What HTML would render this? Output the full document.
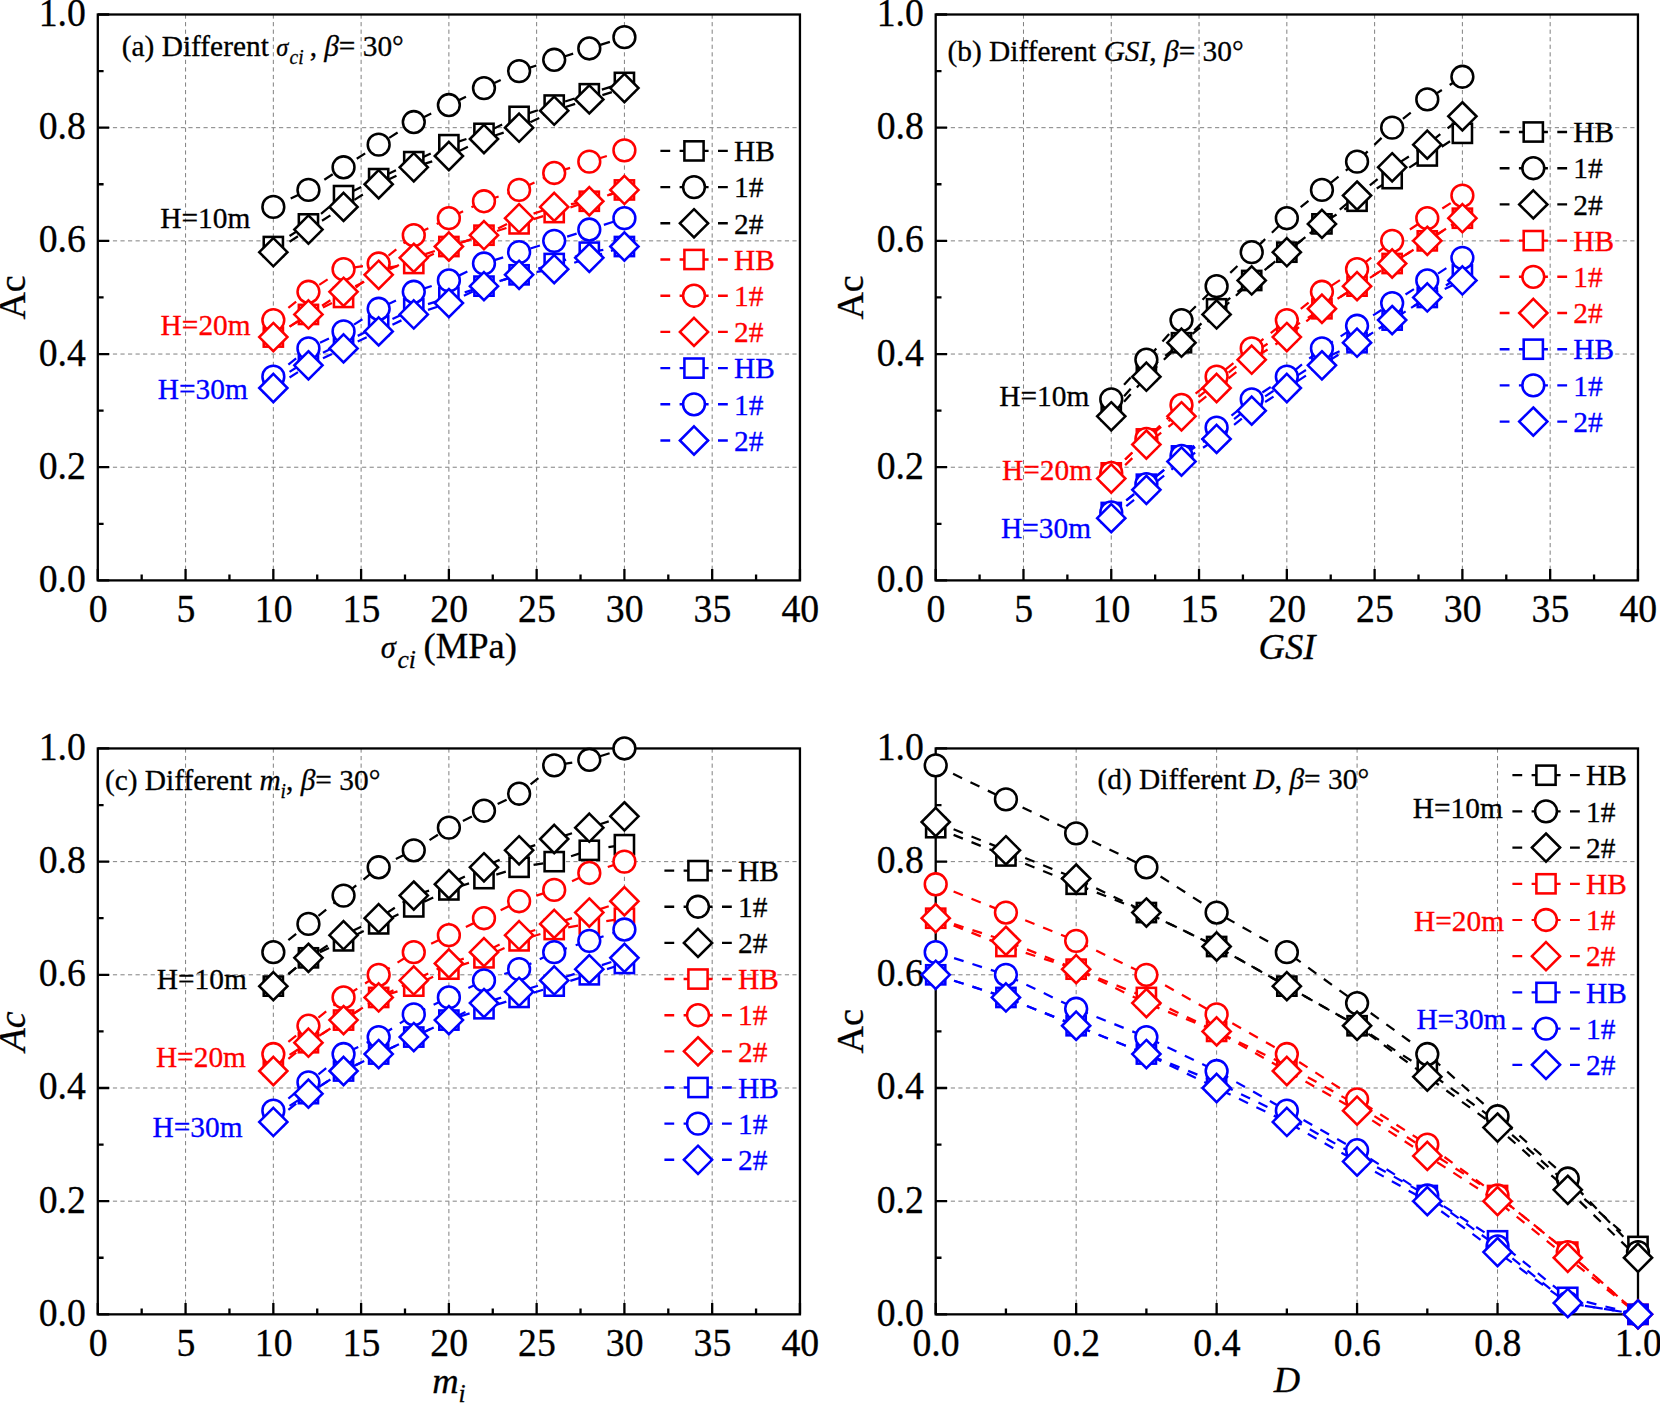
<!DOCTYPE html>
<html lang="en">
<head>
<meta charset="utf-8">
<title>Ac versus rock mass parameters</title>
<style>
html,body{margin:0;padding:0;background:#fff;}
body{width:1660px;height:1404px;overflow:hidden;}
svg{display:block;font-family:'Liberation Serif', serif;}
svg text{white-space:pre;stroke-width:0.3px;paint-order:stroke fill;}
</style>
</head>
<body>
<svg width="1660" height="1404" viewBox="0 0 1660 1404">
<rect width="1660" height="1404" fill="#fff"/>
<g id="panel-a">
<path d="M185.57 14.5V580.4M273.34 14.5V580.4M361.11 14.5V580.4M448.88 14.5V580.4M536.64 14.5V580.4M624.41 14.5V580.4M712.18 14.5V580.4M97.8 467.22H799.95M97.8 354.04H799.95M97.8 240.86H799.95M97.8 127.68H799.95" fill="none" stroke="#808080" stroke-width="1.0" stroke-dasharray="4.2 3.35"/>
<rect x="97.8" y="14.5" width="702.15" height="565.9" fill="none" stroke="#000" stroke-width="2.3"/>
<path d="M97.8 580.4V569M185.57 580.4V569M273.34 580.4V569M361.11 580.4V569M448.88 580.4V569M536.64 580.4V569M624.41 580.4V569M712.18 580.4V569M799.95 580.4V569M141.68 580.4V574.6M229.45 580.4V574.6M317.22 580.4V574.6M404.99 580.4V574.6M492.76 580.4V574.6M580.53 580.4V574.6M668.3 580.4V574.6M756.07 580.4V574.6M97.8 580.4H109.2M97.8 467.22H109.2M97.8 354.04H109.2M97.8 240.86H109.2M97.8 127.68H109.2M97.8 14.5H109.2M97.8 523.81H103.6M97.8 410.63H103.6M97.8 297.45H103.6M97.8 184.27H103.6M97.8 71.09H103.6" fill="none" stroke="#000" stroke-width="2.3"/>
<text transform="translate(98.1 622) scale(0.9533 1)" font-size="39.6" fill="#000000" stroke="#000000" text-anchor="middle">0</text>
<text transform="translate(185.87 622) scale(0.9533 1)" font-size="39.6" fill="#000000" stroke="#000000" text-anchor="middle">5</text>
<text transform="translate(273.64 622) scale(0.9533 1)" font-size="39.6" fill="#000000" stroke="#000000" text-anchor="middle">10</text>
<text transform="translate(361.41 622) scale(0.9533 1)" font-size="39.6" fill="#000000" stroke="#000000" text-anchor="middle">15</text>
<text transform="translate(449.18 622) scale(0.9533 1)" font-size="39.6" fill="#000000" stroke="#000000" text-anchor="middle">20</text>
<text transform="translate(536.94 622) scale(0.9533 1)" font-size="39.6" fill="#000000" stroke="#000000" text-anchor="middle">25</text>
<text transform="translate(624.71 622) scale(0.9533 1)" font-size="39.6" fill="#000000" stroke="#000000" text-anchor="middle">30</text>
<text transform="translate(712.48 622) scale(0.9533 1)" font-size="39.6" fill="#000000" stroke="#000000" text-anchor="middle">35</text>
<text transform="translate(800.25 622) scale(0.9533 1)" font-size="39.6" fill="#000000" stroke="#000000" text-anchor="middle">40</text>
<text transform="translate(85.9 591.9) scale(0.9533 1)" font-size="39.6" fill="#000000" stroke="#000000" text-anchor="end">0.0</text>
<text transform="translate(85.9 478.72) scale(0.9533 1)" font-size="39.6" fill="#000000" stroke="#000000" text-anchor="end">0.2</text>
<text transform="translate(85.9 365.54) scale(0.9533 1)" font-size="39.6" fill="#000000" stroke="#000000" text-anchor="end">0.4</text>
<text transform="translate(85.9 252.36) scale(0.9533 1)" font-size="39.6" fill="#000000" stroke="#000000" text-anchor="end">0.6</text>
<text transform="translate(85.9 139.18) scale(0.9533 1)" font-size="39.6" fill="#000000" stroke="#000000" text-anchor="end">0.8</text>
<text transform="translate(85.9 26) scale(0.9533 1)" font-size="39.6" fill="#000000" stroke="#000000" text-anchor="end">1.0</text>
<text transform="translate(380.68 658.4) scale(1 1)" font-size="36.6" fill="#000000" stroke="#000000" text-anchor="start"><tspan font-style="italic" font-size="30.5">σ</tspan><tspan font-style="italic" font-size="25.5" dy="9.8" dx="1.8">ci</tspan><tspan dy="-9.8" dx="-1.6"> (MPa)</tspan></text>
<text transform="translate(25.2 297.45) rotate(-90) scale(1 1)" font-size="38" fill="#000000" stroke="#000000" text-anchor="middle">Ac</text>
<polyline points="273.34,246.52 308.44,223.88 343.55,195.59 378.66,178.61 413.77,161.63 448.88,144.66 483.98,133.34 519.09,116.36 554.2,105.04 589.3,93.73 624.41,82.41" fill="none" stroke="#000000" stroke-width="2.25" stroke-dasharray="10 9.3"/>
<rect x="263.74" y="236.92" width="19.2" height="19.2" fill="#fff" stroke="#000000" stroke-width="2.55"/><rect x="298.84" y="214.28" width="19.2" height="19.2" fill="#fff" stroke="#000000" stroke-width="2.55"/><rect x="333.95" y="185.99" width="19.2" height="19.2" fill="#fff" stroke="#000000" stroke-width="2.55"/><rect x="369.06" y="169.01" width="19.2" height="19.2" fill="#fff" stroke="#000000" stroke-width="2.55"/><rect x="404.17" y="152.03" width="19.2" height="19.2" fill="#fff" stroke="#000000" stroke-width="2.55"/><rect x="439.28" y="135.06" width="19.2" height="19.2" fill="#fff" stroke="#000000" stroke-width="2.55"/><rect x="474.38" y="123.74" width="19.2" height="19.2" fill="#fff" stroke="#000000" stroke-width="2.55"/><rect x="509.49" y="106.76" width="19.2" height="19.2" fill="#fff" stroke="#000000" stroke-width="2.55"/><rect x="544.6" y="95.44" width="19.2" height="19.2" fill="#fff" stroke="#000000" stroke-width="2.55"/><rect x="579.7" y="84.13" width="19.2" height="19.2" fill="#fff" stroke="#000000" stroke-width="2.55"/><rect x="614.81" y="72.81" width="19.2" height="19.2" fill="#fff" stroke="#000000" stroke-width="2.55"/>
<polyline points="273.34,206.91 308.44,189.93 343.55,167.29 378.66,144.66 413.77,122.02 448.88,105.04 483.98,88.07 519.09,71.09 554.2,59.77 589.3,48.45 624.41,37.14" fill="none" stroke="#000000" stroke-width="2.25" stroke-dasharray="10 9.3"/>
<circle cx="273.34" cy="206.91" r="10.9" fill="#fff" stroke="#000000" stroke-width="2.55"/><circle cx="308.44" cy="189.93" r="10.9" fill="#fff" stroke="#000000" stroke-width="2.55"/><circle cx="343.55" cy="167.29" r="10.9" fill="#fff" stroke="#000000" stroke-width="2.55"/><circle cx="378.66" cy="144.66" r="10.9" fill="#fff" stroke="#000000" stroke-width="2.55"/><circle cx="413.77" cy="122.02" r="10.9" fill="#fff" stroke="#000000" stroke-width="2.55"/><circle cx="448.88" cy="105.04" r="10.9" fill="#fff" stroke="#000000" stroke-width="2.55"/><circle cx="483.98" cy="88.07" r="10.9" fill="#fff" stroke="#000000" stroke-width="2.55"/><circle cx="519.09" cy="71.09" r="10.9" fill="#fff" stroke="#000000" stroke-width="2.55"/><circle cx="554.2" cy="59.77" r="10.9" fill="#fff" stroke="#000000" stroke-width="2.55"/><circle cx="589.3" cy="48.45" r="10.9" fill="#fff" stroke="#000000" stroke-width="2.55"/><circle cx="624.41" cy="37.14" r="10.9" fill="#fff" stroke="#000000" stroke-width="2.55"/>
<polyline points="273.34,252.18 308.44,229.54 343.55,206.91 378.66,184.27 413.77,167.29 448.88,155.98 483.98,139 519.09,127.68 554.2,110.7 589.3,99.38 624.41,88.07" fill="none" stroke="#000000" stroke-width="2.25" stroke-dasharray="10 9.3"/>
<path d="M273.34 238.08L287.44 252.18L273.34 266.28L259.24 252.18Z" fill="#fff" stroke="#000000" stroke-width="2.55" stroke-linejoin="miter"/><path d="M308.44 215.44L322.55 229.54L308.44 243.64L294.34 229.54Z" fill="#fff" stroke="#000000" stroke-width="2.55" stroke-linejoin="miter"/><path d="M343.55 192.81L357.65 206.91L343.55 221.01L329.45 206.91Z" fill="#fff" stroke="#000000" stroke-width="2.55" stroke-linejoin="miter"/><path d="M378.66 170.17L392.76 184.27L378.66 198.37L364.56 184.27Z" fill="#fff" stroke="#000000" stroke-width="2.55" stroke-linejoin="miter"/><path d="M413.77 153.19L427.87 167.29L413.77 181.39L399.67 167.29Z" fill="#fff" stroke="#000000" stroke-width="2.55" stroke-linejoin="miter"/><path d="M448.88 141.88L462.98 155.98L448.88 170.08L434.78 155.98Z" fill="#fff" stroke="#000000" stroke-width="2.55" stroke-linejoin="miter"/><path d="M483.98 124.9L498.08 139L483.98 153.1L469.88 139Z" fill="#fff" stroke="#000000" stroke-width="2.55" stroke-linejoin="miter"/><path d="M519.09 113.58L533.19 127.68L519.09 141.78L504.99 127.68Z" fill="#fff" stroke="#000000" stroke-width="2.55" stroke-linejoin="miter"/><path d="M554.2 96.6L568.3 110.7L554.2 124.8L540.1 110.7Z" fill="#fff" stroke="#000000" stroke-width="2.55" stroke-linejoin="miter"/><path d="M589.3 85.28L603.4 99.38L589.3 113.48L575.2 99.38Z" fill="#fff" stroke="#000000" stroke-width="2.55" stroke-linejoin="miter"/><path d="M624.41 73.97L638.51 88.07L624.41 102.17L610.31 88.07Z" fill="#fff" stroke="#000000" stroke-width="2.55" stroke-linejoin="miter"/>
<polyline points="273.34,337.06 308.44,314.43 343.55,297.45 378.66,269.15 413.77,263.5 448.88,246.52 483.98,235.2 519.09,223.88 554.2,212.56 589.3,201.25 624.41,189.93" fill="none" stroke="#ff0000" stroke-width="2.25" stroke-dasharray="10 9.3"/>
<rect x="263.74" y="327.46" width="19.2" height="19.2" fill="#fff" stroke="#ff0000" stroke-width="2.55"/><rect x="298.84" y="304.83" width="19.2" height="19.2" fill="#fff" stroke="#ff0000" stroke-width="2.55"/><rect x="333.95" y="287.85" width="19.2" height="19.2" fill="#fff" stroke="#ff0000" stroke-width="2.55"/><rect x="369.06" y="259.55" width="19.2" height="19.2" fill="#fff" stroke="#ff0000" stroke-width="2.55"/><rect x="404.17" y="253.9" width="19.2" height="19.2" fill="#fff" stroke="#ff0000" stroke-width="2.55"/><rect x="439.28" y="236.92" width="19.2" height="19.2" fill="#fff" stroke="#ff0000" stroke-width="2.55"/><rect x="474.38" y="225.6" width="19.2" height="19.2" fill="#fff" stroke="#ff0000" stroke-width="2.55"/><rect x="509.49" y="214.28" width="19.2" height="19.2" fill="#fff" stroke="#ff0000" stroke-width="2.55"/><rect x="544.6" y="202.97" width="19.2" height="19.2" fill="#fff" stroke="#ff0000" stroke-width="2.55"/><rect x="579.7" y="191.65" width="19.2" height="19.2" fill="#fff" stroke="#ff0000" stroke-width="2.55"/><rect x="614.81" y="180.33" width="19.2" height="19.2" fill="#fff" stroke="#ff0000" stroke-width="2.55"/>
<polyline points="273.34,320.09 308.44,291.79 343.55,269.15 378.66,263.5 413.77,235.2 448.88,218.22 483.98,201.25 519.09,189.93 554.2,172.95 589.3,161.63 624.41,150.32" fill="none" stroke="#ff0000" stroke-width="2.25" stroke-dasharray="10 9.3"/>
<circle cx="273.34" cy="320.09" r="10.9" fill="#fff" stroke="#ff0000" stroke-width="2.55"/><circle cx="308.44" cy="291.79" r="10.9" fill="#fff" stroke="#ff0000" stroke-width="2.55"/><circle cx="343.55" cy="269.15" r="10.9" fill="#fff" stroke="#ff0000" stroke-width="2.55"/><circle cx="378.66" cy="263.5" r="10.9" fill="#fff" stroke="#ff0000" stroke-width="2.55"/><circle cx="413.77" cy="235.2" r="10.9" fill="#fff" stroke="#ff0000" stroke-width="2.55"/><circle cx="448.88" cy="218.22" r="10.9" fill="#fff" stroke="#ff0000" stroke-width="2.55"/><circle cx="483.98" cy="201.25" r="10.9" fill="#fff" stroke="#ff0000" stroke-width="2.55"/><circle cx="519.09" cy="189.93" r="10.9" fill="#fff" stroke="#ff0000" stroke-width="2.55"/><circle cx="554.2" cy="172.95" r="10.9" fill="#fff" stroke="#ff0000" stroke-width="2.55"/><circle cx="589.3" cy="161.63" r="10.9" fill="#fff" stroke="#ff0000" stroke-width="2.55"/><circle cx="624.41" cy="150.32" r="10.9" fill="#fff" stroke="#ff0000" stroke-width="2.55"/>
<polyline points="273.34,337.06 308.44,314.43 343.55,291.79 378.66,274.81 413.77,257.84 448.88,246.52 483.98,235.2 519.09,218.22 554.2,206.91 589.3,201.25 624.41,189.93" fill="none" stroke="#ff0000" stroke-width="2.25" stroke-dasharray="10 9.3"/>
<path d="M273.34 322.96L287.44 337.06L273.34 351.16L259.24 337.06Z" fill="#fff" stroke="#ff0000" stroke-width="2.55" stroke-linejoin="miter"/><path d="M308.44 300.33L322.55 314.43L308.44 328.53L294.34 314.43Z" fill="#fff" stroke="#ff0000" stroke-width="2.55" stroke-linejoin="miter"/><path d="M343.55 277.69L357.65 291.79L343.55 305.89L329.45 291.79Z" fill="#fff" stroke="#ff0000" stroke-width="2.55" stroke-linejoin="miter"/><path d="M378.66 260.71L392.76 274.81L378.66 288.91L364.56 274.81Z" fill="#fff" stroke="#ff0000" stroke-width="2.55" stroke-linejoin="miter"/><path d="M413.77 243.74L427.87 257.84L413.77 271.94L399.67 257.84Z" fill="#fff" stroke="#ff0000" stroke-width="2.55" stroke-linejoin="miter"/><path d="M448.88 232.42L462.98 246.52L448.88 260.62L434.78 246.52Z" fill="#fff" stroke="#ff0000" stroke-width="2.55" stroke-linejoin="miter"/><path d="M483.98 221.1L498.08 235.2L483.98 249.3L469.88 235.2Z" fill="#fff" stroke="#ff0000" stroke-width="2.55" stroke-linejoin="miter"/><path d="M519.09 204.12L533.19 218.22L519.09 232.32L504.99 218.22Z" fill="#fff" stroke="#ff0000" stroke-width="2.55" stroke-linejoin="miter"/><path d="M554.2 192.81L568.3 206.91L554.2 221.01L540.1 206.91Z" fill="#fff" stroke="#ff0000" stroke-width="2.55" stroke-linejoin="miter"/><path d="M589.3 187.15L603.4 201.25L589.3 215.35L575.2 201.25Z" fill="#fff" stroke="#ff0000" stroke-width="2.55" stroke-linejoin="miter"/><path d="M624.41 175.83L638.51 189.93L624.41 204.03L610.31 189.93Z" fill="#fff" stroke="#ff0000" stroke-width="2.55" stroke-linejoin="miter"/>
<polyline points="273.34,382.34 308.44,359.7 343.55,342.72 378.66,325.75 413.77,308.77 448.88,297.45 483.98,286.13 519.09,274.81 554.2,263.5 589.3,252.18 624.41,246.52" fill="none" stroke="#0000ff" stroke-width="2.25" stroke-dasharray="10 9.3"/>
<rect x="263.74" y="372.74" width="19.2" height="19.2" fill="#fff" stroke="#0000ff" stroke-width="2.55"/><rect x="298.84" y="350.1" width="19.2" height="19.2" fill="#fff" stroke="#0000ff" stroke-width="2.55"/><rect x="333.95" y="333.12" width="19.2" height="19.2" fill="#fff" stroke="#0000ff" stroke-width="2.55"/><rect x="369.06" y="316.14" width="19.2" height="19.2" fill="#fff" stroke="#0000ff" stroke-width="2.55"/><rect x="404.17" y="299.17" width="19.2" height="19.2" fill="#fff" stroke="#0000ff" stroke-width="2.55"/><rect x="439.28" y="287.85" width="19.2" height="19.2" fill="#fff" stroke="#0000ff" stroke-width="2.55"/><rect x="474.38" y="276.53" width="19.2" height="19.2" fill="#fff" stroke="#0000ff" stroke-width="2.55"/><rect x="509.49" y="265.21" width="19.2" height="19.2" fill="#fff" stroke="#0000ff" stroke-width="2.55"/><rect x="544.6" y="253.9" width="19.2" height="19.2" fill="#fff" stroke="#0000ff" stroke-width="2.55"/><rect x="579.7" y="242.58" width="19.2" height="19.2" fill="#fff" stroke="#0000ff" stroke-width="2.55"/><rect x="614.81" y="236.92" width="19.2" height="19.2" fill="#fff" stroke="#0000ff" stroke-width="2.55"/>
<polyline points="273.34,376.68 308.44,348.38 343.55,331.4 378.66,308.77 413.77,291.79 448.88,280.47 483.98,263.5 519.09,252.18 554.2,240.86 589.3,229.54 624.41,218.22" fill="none" stroke="#0000ff" stroke-width="2.25" stroke-dasharray="10 9.3"/>
<circle cx="273.34" cy="376.68" r="10.9" fill="#fff" stroke="#0000ff" stroke-width="2.55"/><circle cx="308.44" cy="348.38" r="10.9" fill="#fff" stroke="#0000ff" stroke-width="2.55"/><circle cx="343.55" cy="331.4" r="10.9" fill="#fff" stroke="#0000ff" stroke-width="2.55"/><circle cx="378.66" cy="308.77" r="10.9" fill="#fff" stroke="#0000ff" stroke-width="2.55"/><circle cx="413.77" cy="291.79" r="10.9" fill="#fff" stroke="#0000ff" stroke-width="2.55"/><circle cx="448.88" cy="280.47" r="10.9" fill="#fff" stroke="#0000ff" stroke-width="2.55"/><circle cx="483.98" cy="263.5" r="10.9" fill="#fff" stroke="#0000ff" stroke-width="2.55"/><circle cx="519.09" cy="252.18" r="10.9" fill="#fff" stroke="#0000ff" stroke-width="2.55"/><circle cx="554.2" cy="240.86" r="10.9" fill="#fff" stroke="#0000ff" stroke-width="2.55"/><circle cx="589.3" cy="229.54" r="10.9" fill="#fff" stroke="#0000ff" stroke-width="2.55"/><circle cx="624.41" cy="218.22" r="10.9" fill="#fff" stroke="#0000ff" stroke-width="2.55"/>
<polyline points="273.34,387.99 308.44,365.36 343.55,348.38 378.66,331.4 413.77,314.43 448.88,303.11 483.98,286.13 519.09,274.81 554.2,269.15 589.3,257.84 624.41,246.52" fill="none" stroke="#0000ff" stroke-width="2.25" stroke-dasharray="10 9.3"/>
<path d="M273.34 373.89L287.44 387.99L273.34 402.09L259.24 387.99Z" fill="#fff" stroke="#0000ff" stroke-width="2.55" stroke-linejoin="miter"/><path d="M308.44 351.26L322.55 365.36L308.44 379.46L294.34 365.36Z" fill="#fff" stroke="#0000ff" stroke-width="2.55" stroke-linejoin="miter"/><path d="M343.55 334.28L357.65 348.38L343.55 362.48L329.45 348.38Z" fill="#fff" stroke="#0000ff" stroke-width="2.55" stroke-linejoin="miter"/><path d="M378.66 317.3L392.76 331.4L378.66 345.5L364.56 331.4Z" fill="#fff" stroke="#0000ff" stroke-width="2.55" stroke-linejoin="miter"/><path d="M413.77 300.33L427.87 314.43L413.77 328.53L399.67 314.43Z" fill="#fff" stroke="#0000ff" stroke-width="2.55" stroke-linejoin="miter"/><path d="M448.88 289.01L462.98 303.11L448.88 317.21L434.78 303.11Z" fill="#fff" stroke="#0000ff" stroke-width="2.55" stroke-linejoin="miter"/><path d="M483.98 272.03L498.08 286.13L483.98 300.23L469.88 286.13Z" fill="#fff" stroke="#0000ff" stroke-width="2.55" stroke-linejoin="miter"/><path d="M519.09 260.71L533.19 274.81L519.09 288.91L504.99 274.81Z" fill="#fff" stroke="#0000ff" stroke-width="2.55" stroke-linejoin="miter"/><path d="M554.2 255.05L568.3 269.15L554.2 283.25L540.1 269.15Z" fill="#fff" stroke="#0000ff" stroke-width="2.55" stroke-linejoin="miter"/><path d="M589.3 243.74L603.4 257.84L589.3 271.94L575.2 257.84Z" fill="#fff" stroke="#0000ff" stroke-width="2.55" stroke-linejoin="miter"/><path d="M624.41 232.42L638.51 246.52L624.41 260.62L610.31 246.52Z" fill="#fff" stroke="#0000ff" stroke-width="2.55" stroke-linejoin="miter"/>
<text transform="translate(121.7 55.7) scale(0.9662 1)" font-size="30.43" fill="#000000" stroke="#000000" text-anchor="start">(a) Different <tspan font-style="italic" font-size="25.36">σ</tspan><tspan font-style="italic" font-size="20.18" dy="8.6" dx="1.4">ci</tspan><tspan dy="-8.6" dx="-1.2"> ,</tspan><tspan font-style="italic" dx="7.2">β</tspan>= 30°</text>
<text transform="translate(160.2 227.5) scale(0.9662 1)" font-size="30.43" fill="#000000" stroke="#000000" text-anchor="start">H=10m</text>
<text transform="translate(160.6 334.7) scale(0.9662 1)" font-size="30.43" fill="#ff0000" stroke="#ff0000" text-anchor="start">H=20m</text>
<text transform="translate(157.7 398.8) scale(0.9662 1)" font-size="30.43" fill="#0000ff" stroke="#0000ff" text-anchor="start">H=30m</text>
<path d="M660.4 150.9H727.9" stroke="#000000" stroke-width="2.4" stroke-dasharray="9.8 9.4" fill="none"/>
<rect x="684.4" y="141.3" width="19.2" height="19.2" fill="#fff" stroke="#000000" stroke-width="2.55"/>
<text transform="translate(734 161.1) scale(0.9662 1)" font-size="30.43" fill="#000000" stroke="#000000" text-anchor="start">HB</text>
<path d="M660.4 187.1H727.9" stroke="#000000" stroke-width="2.4" stroke-dasharray="9.8 9.4" fill="none"/>
<circle cx="694" cy="187.1" r="10.9" fill="#fff" stroke="#000000" stroke-width="2.55"/>
<text transform="translate(734 197.3) scale(0.9662 1)" font-size="30.43" fill="#000000" stroke="#000000" text-anchor="start">1#</text>
<path d="M660.4 223.3H727.9" stroke="#000000" stroke-width="2.4" stroke-dasharray="9.8 9.4" fill="none"/>
<path d="M694 209.2L708.1 223.3L694 237.4L679.9 223.3Z" fill="#fff" stroke="#000000" stroke-width="2.55" stroke-linejoin="miter"/>
<text transform="translate(734 233.5) scale(0.9662 1)" font-size="30.43" fill="#000000" stroke="#000000" text-anchor="start">2#</text>
<path d="M660.4 259.5H727.9" stroke="#ff0000" stroke-width="2.4" stroke-dasharray="9.8 9.4" fill="none"/>
<rect x="684.4" y="249.9" width="19.2" height="19.2" fill="#fff" stroke="#ff0000" stroke-width="2.55"/>
<text transform="translate(734 269.7) scale(0.9662 1)" font-size="30.43" fill="#ff0000" stroke="#ff0000" text-anchor="start">HB</text>
<path d="M660.4 295.7H727.9" stroke="#ff0000" stroke-width="2.4" stroke-dasharray="9.8 9.4" fill="none"/>
<circle cx="694" cy="295.7" r="10.9" fill="#fff" stroke="#ff0000" stroke-width="2.55"/>
<text transform="translate(734 305.9) scale(0.9662 1)" font-size="30.43" fill="#ff0000" stroke="#ff0000" text-anchor="start">1#</text>
<path d="M660.4 331.9H727.9" stroke="#ff0000" stroke-width="2.4" stroke-dasharray="9.8 9.4" fill="none"/>
<path d="M694 317.8L708.1 331.9L694 346L679.9 331.9Z" fill="#fff" stroke="#ff0000" stroke-width="2.55" stroke-linejoin="miter"/>
<text transform="translate(734 342.1) scale(0.9662 1)" font-size="30.43" fill="#ff0000" stroke="#ff0000" text-anchor="start">2#</text>
<path d="M660.4 368.1H727.9" stroke="#0000ff" stroke-width="2.4" stroke-dasharray="9.8 9.4" fill="none"/>
<rect x="684.4" y="358.5" width="19.2" height="19.2" fill="#fff" stroke="#0000ff" stroke-width="2.55"/>
<text transform="translate(734 378.3) scale(0.9662 1)" font-size="30.43" fill="#0000ff" stroke="#0000ff" text-anchor="start">HB</text>
<path d="M660.4 404.3H727.9" stroke="#0000ff" stroke-width="2.4" stroke-dasharray="9.8 9.4" fill="none"/>
<circle cx="694" cy="404.3" r="10.9" fill="#fff" stroke="#0000ff" stroke-width="2.55"/>
<text transform="translate(734 414.5) scale(0.9662 1)" font-size="30.43" fill="#0000ff" stroke="#0000ff" text-anchor="start">1#</text>
<path d="M660.4 440.5H727.9" stroke="#0000ff" stroke-width="2.4" stroke-dasharray="9.8 9.4" fill="none"/>
<path d="M694 426.4L708.1 440.5L694 454.6L679.9 440.5Z" fill="#fff" stroke="#0000ff" stroke-width="2.55" stroke-linejoin="miter"/>
<text transform="translate(734 450.7) scale(0.9662 1)" font-size="30.43" fill="#0000ff" stroke="#0000ff" text-anchor="start">2#</text>
</g>
<g id="panel-b">
<path d="M1023.48 14.5V580.4M1111.26 14.5V580.4M1199.04 14.5V580.4M1286.83 14.5V580.4M1374.61 14.5V580.4M1462.39 14.5V580.4M1550.17 14.5V580.4M935.7 467.22H1637.95M935.7 354.04H1637.95M935.7 240.86H1637.95M935.7 127.68H1637.95" fill="none" stroke="#808080" stroke-width="1.0" stroke-dasharray="4.2 3.35"/>
<rect x="935.7" y="14.5" width="702.25" height="565.9" fill="none" stroke="#000" stroke-width="2.3"/>
<path d="M935.7 580.4V569M1023.48 580.4V569M1111.26 580.4V569M1199.04 580.4V569M1286.83 580.4V569M1374.61 580.4V569M1462.39 580.4V569M1550.17 580.4V569M1637.95 580.4V569M979.59 580.4V574.6M1067.37 580.4V574.6M1155.15 580.4V574.6M1242.93 580.4V574.6M1330.72 580.4V574.6M1418.5 580.4V574.6M1506.28 580.4V574.6M1594.06 580.4V574.6M935.7 580.4H947.1M935.7 467.22H947.1M935.7 354.04H947.1M935.7 240.86H947.1M935.7 127.68H947.1M935.7 14.5H947.1M935.7 523.81H941.5M935.7 410.63H941.5M935.7 297.45H941.5M935.7 184.27H941.5M935.7 71.09H941.5" fill="none" stroke="#000" stroke-width="2.3"/>
<text transform="translate(936 622) scale(0.9533 1)" font-size="39.6" fill="#000000" stroke="#000000" text-anchor="middle">0</text>
<text transform="translate(1023.78 622) scale(0.9533 1)" font-size="39.6" fill="#000000" stroke="#000000" text-anchor="middle">5</text>
<text transform="translate(1111.56 622) scale(0.9533 1)" font-size="39.6" fill="#000000" stroke="#000000" text-anchor="middle">10</text>
<text transform="translate(1199.34 622) scale(0.9533 1)" font-size="39.6" fill="#000000" stroke="#000000" text-anchor="middle">15</text>
<text transform="translate(1287.12 622) scale(0.9533 1)" font-size="39.6" fill="#000000" stroke="#000000" text-anchor="middle">20</text>
<text transform="translate(1374.91 622) scale(0.9533 1)" font-size="39.6" fill="#000000" stroke="#000000" text-anchor="middle">25</text>
<text transform="translate(1462.69 622) scale(0.9533 1)" font-size="39.6" fill="#000000" stroke="#000000" text-anchor="middle">30</text>
<text transform="translate(1550.47 622) scale(0.9533 1)" font-size="39.6" fill="#000000" stroke="#000000" text-anchor="middle">35</text>
<text transform="translate(1638.25 622) scale(0.9533 1)" font-size="39.6" fill="#000000" stroke="#000000" text-anchor="middle">40</text>
<text transform="translate(923.8 591.9) scale(0.9533 1)" font-size="39.6" fill="#000000" stroke="#000000" text-anchor="end">0.0</text>
<text transform="translate(923.8 478.72) scale(0.9533 1)" font-size="39.6" fill="#000000" stroke="#000000" text-anchor="end">0.2</text>
<text transform="translate(923.8 365.54) scale(0.9533 1)" font-size="39.6" fill="#000000" stroke="#000000" text-anchor="end">0.4</text>
<text transform="translate(923.8 252.36) scale(0.9533 1)" font-size="39.6" fill="#000000" stroke="#000000" text-anchor="end">0.6</text>
<text transform="translate(923.8 139.18) scale(0.9533 1)" font-size="39.6" fill="#000000" stroke="#000000" text-anchor="end">0.8</text>
<text transform="translate(923.8 26) scale(0.9533 1)" font-size="39.6" fill="#000000" stroke="#000000" text-anchor="end">1.0</text>
<text transform="translate(1287.03 659) scale(1 1)" font-size="36.6" fill="#000000" stroke="#000000" text-anchor="middle" font-style="italic">GSI</text>
<text transform="translate(863.1 297.45) rotate(-90) scale(1 1)" font-size="38" fill="#000000" stroke="#000000" text-anchor="middle">Ac</text>
<polyline points="1111.26,410.63 1146.38,371.02 1181.49,342.72 1216.6,308.77 1251.71,280.47 1286.83,252.18 1321.94,223.88 1357.05,201.25 1392.16,178.61 1427.28,155.98 1462.39,133.34" fill="none" stroke="#000000" stroke-width="2.25" stroke-dasharray="10 9.3"/>
<rect x="1101.66" y="401.03" width="19.2" height="19.2" fill="#fff" stroke="#000000" stroke-width="2.55"/><rect x="1136.78" y="361.42" width="19.2" height="19.2" fill="#fff" stroke="#000000" stroke-width="2.55"/><rect x="1171.89" y="333.12" width="19.2" height="19.2" fill="#fff" stroke="#000000" stroke-width="2.55"/><rect x="1207" y="299.17" width="19.2" height="19.2" fill="#fff" stroke="#000000" stroke-width="2.55"/><rect x="1242.11" y="270.87" width="19.2" height="19.2" fill="#fff" stroke="#000000" stroke-width="2.55"/><rect x="1277.23" y="242.58" width="19.2" height="19.2" fill="#fff" stroke="#000000" stroke-width="2.55"/><rect x="1312.34" y="214.28" width="19.2" height="19.2" fill="#fff" stroke="#000000" stroke-width="2.55"/><rect x="1347.45" y="191.65" width="19.2" height="19.2" fill="#fff" stroke="#000000" stroke-width="2.55"/><rect x="1382.56" y="169.01" width="19.2" height="19.2" fill="#fff" stroke="#000000" stroke-width="2.55"/><rect x="1417.68" y="146.38" width="19.2" height="19.2" fill="#fff" stroke="#000000" stroke-width="2.55"/><rect x="1452.79" y="123.74" width="19.2" height="19.2" fill="#fff" stroke="#000000" stroke-width="2.55"/>
<polyline points="1111.26,399.31 1146.38,359.7 1181.49,320.09 1216.6,286.13 1251.71,252.18 1286.83,218.22 1321.94,189.93 1357.05,161.63 1392.16,127.68 1427.28,99.38 1462.39,76.75" fill="none" stroke="#000000" stroke-width="2.25" stroke-dasharray="10 9.3"/>
<circle cx="1111.26" cy="399.31" r="10.9" fill="#fff" stroke="#000000" stroke-width="2.55"/><circle cx="1146.38" cy="359.7" r="10.9" fill="#fff" stroke="#000000" stroke-width="2.55"/><circle cx="1181.49" cy="320.09" r="10.9" fill="#fff" stroke="#000000" stroke-width="2.55"/><circle cx="1216.6" cy="286.13" r="10.9" fill="#fff" stroke="#000000" stroke-width="2.55"/><circle cx="1251.71" cy="252.18" r="10.9" fill="#fff" stroke="#000000" stroke-width="2.55"/><circle cx="1286.83" cy="218.22" r="10.9" fill="#fff" stroke="#000000" stroke-width="2.55"/><circle cx="1321.94" cy="189.93" r="10.9" fill="#fff" stroke="#000000" stroke-width="2.55"/><circle cx="1357.05" cy="161.63" r="10.9" fill="#fff" stroke="#000000" stroke-width="2.55"/><circle cx="1392.16" cy="127.68" r="10.9" fill="#fff" stroke="#000000" stroke-width="2.55"/><circle cx="1427.28" cy="99.38" r="10.9" fill="#fff" stroke="#000000" stroke-width="2.55"/><circle cx="1462.39" cy="76.75" r="10.9" fill="#fff" stroke="#000000" stroke-width="2.55"/>
<polyline points="1111.26,416.29 1146.38,376.68 1181.49,342.72 1216.6,314.43 1251.71,280.47 1286.83,252.18 1321.94,223.88 1357.05,195.59 1392.16,167.29 1427.28,144.66 1462.39,116.36" fill="none" stroke="#000000" stroke-width="2.25" stroke-dasharray="10 9.3"/>
<path d="M1111.26 402.19L1125.36 416.29L1111.26 430.39L1097.16 416.29Z" fill="#fff" stroke="#000000" stroke-width="2.55" stroke-linejoin="miter"/><path d="M1146.38 362.58L1160.47 376.68L1146.38 390.78L1132.28 376.68Z" fill="#fff" stroke="#000000" stroke-width="2.55" stroke-linejoin="miter"/><path d="M1181.49 328.62L1195.59 342.72L1181.49 356.82L1167.39 342.72Z" fill="#fff" stroke="#000000" stroke-width="2.55" stroke-linejoin="miter"/><path d="M1216.6 300.33L1230.7 314.43L1216.6 328.53L1202.5 314.43Z" fill="#fff" stroke="#000000" stroke-width="2.55" stroke-linejoin="miter"/><path d="M1251.71 266.37L1265.81 280.47L1251.71 294.57L1237.61 280.47Z" fill="#fff" stroke="#000000" stroke-width="2.55" stroke-linejoin="miter"/><path d="M1286.83 238.08L1300.92 252.18L1286.83 266.28L1272.73 252.18Z" fill="#fff" stroke="#000000" stroke-width="2.55" stroke-linejoin="miter"/><path d="M1321.94 209.78L1336.04 223.88L1321.94 237.98L1307.84 223.88Z" fill="#fff" stroke="#000000" stroke-width="2.55" stroke-linejoin="miter"/><path d="M1357.05 181.49L1371.15 195.59L1357.05 209.69L1342.95 195.59Z" fill="#fff" stroke="#000000" stroke-width="2.55" stroke-linejoin="miter"/><path d="M1392.16 153.19L1406.26 167.29L1392.16 181.39L1378.06 167.29Z" fill="#fff" stroke="#000000" stroke-width="2.55" stroke-linejoin="miter"/><path d="M1427.28 130.56L1441.38 144.66L1427.28 158.76L1413.18 144.66Z" fill="#fff" stroke="#000000" stroke-width="2.55" stroke-linejoin="miter"/><path d="M1462.39 102.26L1476.49 116.36L1462.39 130.46L1448.29 116.36Z" fill="#fff" stroke="#000000" stroke-width="2.55" stroke-linejoin="miter"/>
<polyline points="1111.26,472.88 1146.38,438.92 1181.49,410.63 1216.6,382.34 1251.71,354.04 1286.83,331.4 1321.94,308.77 1357.05,286.13 1392.16,263.5 1427.28,240.86 1462.39,218.22" fill="none" stroke="#ff0000" stroke-width="2.25" stroke-dasharray="10 9.3"/>
<rect x="1101.66" y="463.28" width="19.2" height="19.2" fill="#fff" stroke="#ff0000" stroke-width="2.55"/><rect x="1136.78" y="429.32" width="19.2" height="19.2" fill="#fff" stroke="#ff0000" stroke-width="2.55"/><rect x="1171.89" y="401.03" width="19.2" height="19.2" fill="#fff" stroke="#ff0000" stroke-width="2.55"/><rect x="1207" y="372.74" width="19.2" height="19.2" fill="#fff" stroke="#ff0000" stroke-width="2.55"/><rect x="1242.11" y="344.44" width="19.2" height="19.2" fill="#fff" stroke="#ff0000" stroke-width="2.55"/><rect x="1277.23" y="321.8" width="19.2" height="19.2" fill="#fff" stroke="#ff0000" stroke-width="2.55"/><rect x="1312.34" y="299.17" width="19.2" height="19.2" fill="#fff" stroke="#ff0000" stroke-width="2.55"/><rect x="1347.45" y="276.53" width="19.2" height="19.2" fill="#fff" stroke="#ff0000" stroke-width="2.55"/><rect x="1382.56" y="253.9" width="19.2" height="19.2" fill="#fff" stroke="#ff0000" stroke-width="2.55"/><rect x="1417.68" y="231.26" width="19.2" height="19.2" fill="#fff" stroke="#ff0000" stroke-width="2.55"/><rect x="1452.79" y="208.62" width="19.2" height="19.2" fill="#fff" stroke="#ff0000" stroke-width="2.55"/>
<polyline points="1111.26,472.88 1146.38,438.92 1181.49,404.97 1216.6,376.68 1251.71,348.38 1286.83,320.09 1321.94,291.79 1357.05,269.15 1392.16,240.86 1427.28,218.22 1462.39,195.59" fill="none" stroke="#ff0000" stroke-width="2.25" stroke-dasharray="10 9.3"/>
<circle cx="1111.26" cy="472.88" r="10.9" fill="#fff" stroke="#ff0000" stroke-width="2.55"/><circle cx="1146.38" cy="438.92" r="10.9" fill="#fff" stroke="#ff0000" stroke-width="2.55"/><circle cx="1181.49" cy="404.97" r="10.9" fill="#fff" stroke="#ff0000" stroke-width="2.55"/><circle cx="1216.6" cy="376.68" r="10.9" fill="#fff" stroke="#ff0000" stroke-width="2.55"/><circle cx="1251.71" cy="348.38" r="10.9" fill="#fff" stroke="#ff0000" stroke-width="2.55"/><circle cx="1286.83" cy="320.09" r="10.9" fill="#fff" stroke="#ff0000" stroke-width="2.55"/><circle cx="1321.94" cy="291.79" r="10.9" fill="#fff" stroke="#ff0000" stroke-width="2.55"/><circle cx="1357.05" cy="269.15" r="10.9" fill="#fff" stroke="#ff0000" stroke-width="2.55"/><circle cx="1392.16" cy="240.86" r="10.9" fill="#fff" stroke="#ff0000" stroke-width="2.55"/><circle cx="1427.28" cy="218.22" r="10.9" fill="#fff" stroke="#ff0000" stroke-width="2.55"/><circle cx="1462.39" cy="195.59" r="10.9" fill="#fff" stroke="#ff0000" stroke-width="2.55"/>
<polyline points="1111.26,478.54 1146.38,444.58 1181.49,416.29 1216.6,387.99 1251.71,359.7 1286.83,337.06 1321.94,308.77 1357.05,286.13 1392.16,263.5 1427.28,240.86 1462.39,218.22" fill="none" stroke="#ff0000" stroke-width="2.25" stroke-dasharray="10 9.3"/>
<path d="M1111.26 464.44L1125.36 478.54L1111.26 492.64L1097.16 478.54Z" fill="#fff" stroke="#ff0000" stroke-width="2.55" stroke-linejoin="miter"/><path d="M1146.38 430.48L1160.47 444.58L1146.38 458.68L1132.28 444.58Z" fill="#fff" stroke="#ff0000" stroke-width="2.55" stroke-linejoin="miter"/><path d="M1181.49 402.19L1195.59 416.29L1181.49 430.39L1167.39 416.29Z" fill="#fff" stroke="#ff0000" stroke-width="2.55" stroke-linejoin="miter"/><path d="M1216.6 373.89L1230.7 387.99L1216.6 402.09L1202.5 387.99Z" fill="#fff" stroke="#ff0000" stroke-width="2.55" stroke-linejoin="miter"/><path d="M1251.71 345.6L1265.81 359.7L1251.71 373.8L1237.61 359.7Z" fill="#fff" stroke="#ff0000" stroke-width="2.55" stroke-linejoin="miter"/><path d="M1286.83 322.96L1300.92 337.06L1286.83 351.16L1272.73 337.06Z" fill="#fff" stroke="#ff0000" stroke-width="2.55" stroke-linejoin="miter"/><path d="M1321.94 294.67L1336.04 308.77L1321.94 322.87L1307.84 308.77Z" fill="#fff" stroke="#ff0000" stroke-width="2.55" stroke-linejoin="miter"/><path d="M1357.05 272.03L1371.15 286.13L1357.05 300.23L1342.95 286.13Z" fill="#fff" stroke="#ff0000" stroke-width="2.55" stroke-linejoin="miter"/><path d="M1392.16 249.4L1406.26 263.5L1392.16 277.6L1378.06 263.5Z" fill="#fff" stroke="#ff0000" stroke-width="2.55" stroke-linejoin="miter"/><path d="M1427.28 226.76L1441.38 240.86L1427.28 254.96L1413.18 240.86Z" fill="#fff" stroke="#ff0000" stroke-width="2.55" stroke-linejoin="miter"/><path d="M1462.39 204.12L1476.49 218.22L1462.39 232.32L1448.29 218.22Z" fill="#fff" stroke="#ff0000" stroke-width="2.55" stroke-linejoin="miter"/>
<polyline points="1111.26,512.49 1146.38,484.2 1181.49,455.9 1216.6,433.27 1251.71,404.97 1286.83,382.34 1321.94,359.7 1357.05,342.72 1392.16,320.09 1427.28,297.45 1462.39,274.81" fill="none" stroke="#0000ff" stroke-width="2.25" stroke-dasharray="10 9.3"/>
<rect x="1101.66" y="502.89" width="19.2" height="19.2" fill="#fff" stroke="#0000ff" stroke-width="2.55"/><rect x="1136.78" y="474.6" width="19.2" height="19.2" fill="#fff" stroke="#0000ff" stroke-width="2.55"/><rect x="1171.89" y="446.3" width="19.2" height="19.2" fill="#fff" stroke="#0000ff" stroke-width="2.55"/><rect x="1207" y="423.67" width="19.2" height="19.2" fill="#fff" stroke="#0000ff" stroke-width="2.55"/><rect x="1242.11" y="395.37" width="19.2" height="19.2" fill="#fff" stroke="#0000ff" stroke-width="2.55"/><rect x="1277.23" y="372.74" width="19.2" height="19.2" fill="#fff" stroke="#0000ff" stroke-width="2.55"/><rect x="1312.34" y="350.1" width="19.2" height="19.2" fill="#fff" stroke="#0000ff" stroke-width="2.55"/><rect x="1347.45" y="333.12" width="19.2" height="19.2" fill="#fff" stroke="#0000ff" stroke-width="2.55"/><rect x="1382.56" y="310.49" width="19.2" height="19.2" fill="#fff" stroke="#0000ff" stroke-width="2.55"/><rect x="1417.68" y="287.85" width="19.2" height="19.2" fill="#fff" stroke="#0000ff" stroke-width="2.55"/><rect x="1452.79" y="265.21" width="19.2" height="19.2" fill="#fff" stroke="#0000ff" stroke-width="2.55"/>
<polyline points="1111.26,512.49 1146.38,484.2 1181.49,455.9 1216.6,427.61 1251.71,399.31 1286.83,376.68 1321.94,348.38 1357.05,325.75 1392.16,303.11 1427.28,280.47 1462.39,257.84" fill="none" stroke="#0000ff" stroke-width="2.25" stroke-dasharray="10 9.3"/>
<circle cx="1111.26" cy="512.49" r="10.9" fill="#fff" stroke="#0000ff" stroke-width="2.55"/><circle cx="1146.38" cy="484.2" r="10.9" fill="#fff" stroke="#0000ff" stroke-width="2.55"/><circle cx="1181.49" cy="455.9" r="10.9" fill="#fff" stroke="#0000ff" stroke-width="2.55"/><circle cx="1216.6" cy="427.61" r="10.9" fill="#fff" stroke="#0000ff" stroke-width="2.55"/><circle cx="1251.71" cy="399.31" r="10.9" fill="#fff" stroke="#0000ff" stroke-width="2.55"/><circle cx="1286.83" cy="376.68" r="10.9" fill="#fff" stroke="#0000ff" stroke-width="2.55"/><circle cx="1321.94" cy="348.38" r="10.9" fill="#fff" stroke="#0000ff" stroke-width="2.55"/><circle cx="1357.05" cy="325.75" r="10.9" fill="#fff" stroke="#0000ff" stroke-width="2.55"/><circle cx="1392.16" cy="303.11" r="10.9" fill="#fff" stroke="#0000ff" stroke-width="2.55"/><circle cx="1427.28" cy="280.47" r="10.9" fill="#fff" stroke="#0000ff" stroke-width="2.55"/><circle cx="1462.39" cy="257.84" r="10.9" fill="#fff" stroke="#0000ff" stroke-width="2.55"/>
<polyline points="1111.26,518.15 1146.38,489.86 1181.49,461.56 1216.6,438.92 1251.71,410.63 1286.83,387.99 1321.94,365.36 1357.05,342.72 1392.16,320.09 1427.28,297.45 1462.39,280.47" fill="none" stroke="#0000ff" stroke-width="2.25" stroke-dasharray="10 9.3"/>
<path d="M1111.26 504.05L1125.36 518.15L1111.26 532.25L1097.16 518.15Z" fill="#fff" stroke="#0000ff" stroke-width="2.55" stroke-linejoin="miter"/><path d="M1146.38 475.76L1160.47 489.86L1146.38 503.96L1132.28 489.86Z" fill="#fff" stroke="#0000ff" stroke-width="2.55" stroke-linejoin="miter"/><path d="M1181.49 447.46L1195.59 461.56L1181.49 475.66L1167.39 461.56Z" fill="#fff" stroke="#0000ff" stroke-width="2.55" stroke-linejoin="miter"/><path d="M1216.6 424.82L1230.7 438.92L1216.6 453.02L1202.5 438.92Z" fill="#fff" stroke="#0000ff" stroke-width="2.55" stroke-linejoin="miter"/><path d="M1251.71 396.53L1265.81 410.63L1251.71 424.73L1237.61 410.63Z" fill="#fff" stroke="#0000ff" stroke-width="2.55" stroke-linejoin="miter"/><path d="M1286.83 373.89L1300.92 387.99L1286.83 402.09L1272.73 387.99Z" fill="#fff" stroke="#0000ff" stroke-width="2.55" stroke-linejoin="miter"/><path d="M1321.94 351.26L1336.04 365.36L1321.94 379.46L1307.84 365.36Z" fill="#fff" stroke="#0000ff" stroke-width="2.55" stroke-linejoin="miter"/><path d="M1357.05 328.62L1371.15 342.72L1357.05 356.82L1342.95 342.72Z" fill="#fff" stroke="#0000ff" stroke-width="2.55" stroke-linejoin="miter"/><path d="M1392.16 305.99L1406.26 320.09L1392.16 334.19L1378.06 320.09Z" fill="#fff" stroke="#0000ff" stroke-width="2.55" stroke-linejoin="miter"/><path d="M1427.28 283.35L1441.38 297.45L1427.28 311.55L1413.18 297.45Z" fill="#fff" stroke="#0000ff" stroke-width="2.55" stroke-linejoin="miter"/><path d="M1462.39 266.37L1476.49 280.47L1462.39 294.57L1448.29 280.47Z" fill="#fff" stroke="#0000ff" stroke-width="2.55" stroke-linejoin="miter"/>
<text transform="translate(947.5 60.5) scale(0.9662 1)" font-size="30.43" fill="#000000" stroke="#000000" text-anchor="start">(b) Different <tspan font-style="italic">GSI</tspan>, <tspan font-style="italic">β</tspan>= 30°</text>
<text transform="translate(999.3 405.5) scale(0.9662 1)" font-size="30.43" fill="#000000" stroke="#000000" text-anchor="start">H=10m</text>
<text transform="translate(1002 480.3) scale(0.9662 1)" font-size="30.43" fill="#ff0000" stroke="#ff0000" text-anchor="start">H=20m</text>
<text transform="translate(1001 538) scale(0.9662 1)" font-size="30.43" fill="#0000ff" stroke="#0000ff" text-anchor="start">H=30m</text>
<path d="M1499.7 132H1567.2" stroke="#000000" stroke-width="2.4" stroke-dasharray="9.8 9.4" fill="none"/>
<rect x="1523.7" y="122.4" width="19.2" height="19.2" fill="#fff" stroke="#000000" stroke-width="2.55"/>
<text transform="translate(1573.3 142.2) scale(0.9662 1)" font-size="30.43" fill="#000000" stroke="#000000" text-anchor="start">HB</text>
<path d="M1499.7 168.2H1567.2" stroke="#000000" stroke-width="2.4" stroke-dasharray="9.8 9.4" fill="none"/>
<circle cx="1533.3" cy="168.2" r="10.9" fill="#fff" stroke="#000000" stroke-width="2.55"/>
<text transform="translate(1573.3 178.4) scale(0.9662 1)" font-size="30.43" fill="#000000" stroke="#000000" text-anchor="start">1#</text>
<path d="M1499.7 204.4H1567.2" stroke="#000000" stroke-width="2.4" stroke-dasharray="9.8 9.4" fill="none"/>
<path d="M1533.3 190.3L1547.4 204.4L1533.3 218.5L1519.2 204.4Z" fill="#fff" stroke="#000000" stroke-width="2.55" stroke-linejoin="miter"/>
<text transform="translate(1573.3 214.6) scale(0.9662 1)" font-size="30.43" fill="#000000" stroke="#000000" text-anchor="start">2#</text>
<path d="M1499.7 240.6H1567.2" stroke="#ff0000" stroke-width="2.4" stroke-dasharray="9.8 9.4" fill="none"/>
<rect x="1523.7" y="231" width="19.2" height="19.2" fill="#fff" stroke="#ff0000" stroke-width="2.55"/>
<text transform="translate(1573.3 250.8) scale(0.9662 1)" font-size="30.43" fill="#ff0000" stroke="#ff0000" text-anchor="start">HB</text>
<path d="M1499.7 276.8H1567.2" stroke="#ff0000" stroke-width="2.4" stroke-dasharray="9.8 9.4" fill="none"/>
<circle cx="1533.3" cy="276.8" r="10.9" fill="#fff" stroke="#ff0000" stroke-width="2.55"/>
<text transform="translate(1573.3 287) scale(0.9662 1)" font-size="30.43" fill="#ff0000" stroke="#ff0000" text-anchor="start">1#</text>
<path d="M1499.7 313H1567.2" stroke="#ff0000" stroke-width="2.4" stroke-dasharray="9.8 9.4" fill="none"/>
<path d="M1533.3 298.9L1547.4 313L1533.3 327.1L1519.2 313Z" fill="#fff" stroke="#ff0000" stroke-width="2.55" stroke-linejoin="miter"/>
<text transform="translate(1573.3 323.2) scale(0.9662 1)" font-size="30.43" fill="#ff0000" stroke="#ff0000" text-anchor="start">2#</text>
<path d="M1499.7 349.2H1567.2" stroke="#0000ff" stroke-width="2.4" stroke-dasharray="9.8 9.4" fill="none"/>
<rect x="1523.7" y="339.6" width="19.2" height="19.2" fill="#fff" stroke="#0000ff" stroke-width="2.55"/>
<text transform="translate(1573.3 359.4) scale(0.9662 1)" font-size="30.43" fill="#0000ff" stroke="#0000ff" text-anchor="start">HB</text>
<path d="M1499.7 385.4H1567.2" stroke="#0000ff" stroke-width="2.4" stroke-dasharray="9.8 9.4" fill="none"/>
<circle cx="1533.3" cy="385.4" r="10.9" fill="#fff" stroke="#0000ff" stroke-width="2.55"/>
<text transform="translate(1573.3 395.6) scale(0.9662 1)" font-size="30.43" fill="#0000ff" stroke="#0000ff" text-anchor="start">1#</text>
<path d="M1499.7 421.6H1567.2" stroke="#0000ff" stroke-width="2.4" stroke-dasharray="9.8 9.4" fill="none"/>
<path d="M1533.3 407.5L1547.4 421.6L1533.3 435.7L1519.2 421.6Z" fill="#fff" stroke="#0000ff" stroke-width="2.55" stroke-linejoin="miter"/>
<text transform="translate(1573.3 431.8) scale(0.9662 1)" font-size="30.43" fill="#0000ff" stroke="#0000ff" text-anchor="start">2#</text>
</g>
<g id="panel-c">
<path d="M185.57 748.45V1314.35M273.34 748.45V1314.35M361.11 748.45V1314.35M448.88 748.45V1314.35M536.64 748.45V1314.35M624.41 748.45V1314.35M712.18 748.45V1314.35M97.8 1201.17H799.95M97.8 1087.99H799.95M97.8 974.81H799.95M97.8 861.63H799.95" fill="none" stroke="#808080" stroke-width="1.0" stroke-dasharray="4.2 3.35"/>
<rect x="97.8" y="748.45" width="702.15" height="565.9" fill="none" stroke="#000" stroke-width="2.3"/>
<path d="M97.8 1314.35V1302.95M185.57 1314.35V1302.95M273.34 1314.35V1302.95M361.11 1314.35V1302.95M448.88 1314.35V1302.95M536.64 1314.35V1302.95M624.41 1314.35V1302.95M712.18 1314.35V1302.95M799.95 1314.35V1302.95M141.68 1314.35V1308.55M229.45 1314.35V1308.55M317.22 1314.35V1308.55M404.99 1314.35V1308.55M492.76 1314.35V1308.55M580.53 1314.35V1308.55M668.3 1314.35V1308.55M756.07 1314.35V1308.55M97.8 1314.35H109.2M97.8 1201.17H109.2M97.8 1087.99H109.2M97.8 974.81H109.2M97.8 861.63H109.2M97.8 748.45H109.2M97.8 1257.76H103.6M97.8 1144.58H103.6M97.8 1031.4H103.6M97.8 918.22H103.6M97.8 805.04H103.6" fill="none" stroke="#000" stroke-width="2.3"/>
<text transform="translate(98.1 1355.95) scale(0.9533 1)" font-size="39.6" fill="#000000" stroke="#000000" text-anchor="middle">0</text>
<text transform="translate(185.87 1355.95) scale(0.9533 1)" font-size="39.6" fill="#000000" stroke="#000000" text-anchor="middle">5</text>
<text transform="translate(273.64 1355.95) scale(0.9533 1)" font-size="39.6" fill="#000000" stroke="#000000" text-anchor="middle">10</text>
<text transform="translate(361.41 1355.95) scale(0.9533 1)" font-size="39.6" fill="#000000" stroke="#000000" text-anchor="middle">15</text>
<text transform="translate(449.18 1355.95) scale(0.9533 1)" font-size="39.6" fill="#000000" stroke="#000000" text-anchor="middle">20</text>
<text transform="translate(536.94 1355.95) scale(0.9533 1)" font-size="39.6" fill="#000000" stroke="#000000" text-anchor="middle">25</text>
<text transform="translate(624.71 1355.95) scale(0.9533 1)" font-size="39.6" fill="#000000" stroke="#000000" text-anchor="middle">30</text>
<text transform="translate(712.48 1355.95) scale(0.9533 1)" font-size="39.6" fill="#000000" stroke="#000000" text-anchor="middle">35</text>
<text transform="translate(800.25 1355.95) scale(0.9533 1)" font-size="39.6" fill="#000000" stroke="#000000" text-anchor="middle">40</text>
<text transform="translate(85.9 1325.85) scale(0.9533 1)" font-size="39.6" fill="#000000" stroke="#000000" text-anchor="end">0.0</text>
<text transform="translate(85.9 1212.67) scale(0.9533 1)" font-size="39.6" fill="#000000" stroke="#000000" text-anchor="end">0.2</text>
<text transform="translate(85.9 1099.49) scale(0.9533 1)" font-size="39.6" fill="#000000" stroke="#000000" text-anchor="end">0.4</text>
<text transform="translate(85.9 986.31) scale(0.9533 1)" font-size="39.6" fill="#000000" stroke="#000000" text-anchor="end">0.6</text>
<text transform="translate(85.9 873.13) scale(0.9533 1)" font-size="39.6" fill="#000000" stroke="#000000" text-anchor="end">0.8</text>
<text transform="translate(85.9 759.95) scale(0.9533 1)" font-size="39.6" fill="#000000" stroke="#000000" text-anchor="end">1.0</text>
<text transform="translate(448.88 1393.25) scale(1 1)" font-size="36.6" fill="#000000" stroke="#000000" text-anchor="middle"><tspan font-style="italic">m</tspan><tspan font-style="italic" font-size="25.5" dy="9" dx="0">i</tspan></text>
<text transform="translate(25.2 1031.4) rotate(-90) scale(1 1)" font-size="38" fill="#000000" stroke="#000000" text-anchor="middle" font-style="italic">Ac</text>
<polyline points="273.34,986.13 308.44,957.83 343.55,940.86 378.66,923.88 413.77,906.9 448.88,889.92 483.98,878.61 519.09,867.29 554.2,861.63 589.3,850.31 624.41,844.65" fill="none" stroke="#000000" stroke-width="2.25" stroke-dasharray="10 9.3"/>
<rect x="263.74" y="976.53" width="19.2" height="19.2" fill="#fff" stroke="#000000" stroke-width="2.55"/><rect x="298.84" y="948.23" width="19.2" height="19.2" fill="#fff" stroke="#000000" stroke-width="2.55"/><rect x="333.95" y="931.26" width="19.2" height="19.2" fill="#fff" stroke="#000000" stroke-width="2.55"/><rect x="369.06" y="914.28" width="19.2" height="19.2" fill="#fff" stroke="#000000" stroke-width="2.55"/><rect x="404.17" y="897.3" width="19.2" height="19.2" fill="#fff" stroke="#000000" stroke-width="2.55"/><rect x="439.28" y="880.32" width="19.2" height="19.2" fill="#fff" stroke="#000000" stroke-width="2.55"/><rect x="474.38" y="869.01" width="19.2" height="19.2" fill="#fff" stroke="#000000" stroke-width="2.55"/><rect x="509.49" y="857.69" width="19.2" height="19.2" fill="#fff" stroke="#000000" stroke-width="2.55"/><rect x="544.6" y="852.03" width="19.2" height="19.2" fill="#fff" stroke="#000000" stroke-width="2.55"/><rect x="579.7" y="840.71" width="19.2" height="19.2" fill="#fff" stroke="#000000" stroke-width="2.55"/><rect x="614.81" y="835.05" width="19.2" height="19.2" fill="#fff" stroke="#000000" stroke-width="2.55"/>
<polyline points="273.34,952.17 308.44,923.88 343.55,895.58 378.66,867.29 413.77,850.31 448.88,827.68 483.98,810.7 519.09,793.72 554.2,765.43 589.3,759.77 624.41,748.45" fill="none" stroke="#000000" stroke-width="2.25" stroke-dasharray="10 9.3"/>
<circle cx="273.34" cy="952.17" r="10.9" fill="#fff" stroke="#000000" stroke-width="2.55"/><circle cx="308.44" cy="923.88" r="10.9" fill="#fff" stroke="#000000" stroke-width="2.55"/><circle cx="343.55" cy="895.58" r="10.9" fill="#fff" stroke="#000000" stroke-width="2.55"/><circle cx="378.66" cy="867.29" r="10.9" fill="#fff" stroke="#000000" stroke-width="2.55"/><circle cx="413.77" cy="850.31" r="10.9" fill="#fff" stroke="#000000" stroke-width="2.55"/><circle cx="448.88" cy="827.68" r="10.9" fill="#fff" stroke="#000000" stroke-width="2.55"/><circle cx="483.98" cy="810.7" r="10.9" fill="#fff" stroke="#000000" stroke-width="2.55"/><circle cx="519.09" cy="793.72" r="10.9" fill="#fff" stroke="#000000" stroke-width="2.55"/><circle cx="554.2" cy="765.43" r="10.9" fill="#fff" stroke="#000000" stroke-width="2.55"/><circle cx="589.3" cy="759.77" r="10.9" fill="#fff" stroke="#000000" stroke-width="2.55"/><circle cx="624.41" cy="748.45" r="10.9" fill="#fff" stroke="#000000" stroke-width="2.55"/>
<polyline points="273.34,986.13 308.44,957.83 343.55,935.2 378.66,918.22 413.77,895.58 448.88,884.27 483.98,867.29 519.09,850.31 554.2,838.99 589.3,827.68 624.41,816.36" fill="none" stroke="#000000" stroke-width="2.25" stroke-dasharray="10 9.3"/>
<path d="M273.34 972.03L287.44 986.13L273.34 1000.23L259.24 986.13Z" fill="#fff" stroke="#000000" stroke-width="2.55" stroke-linejoin="miter"/><path d="M308.44 943.73L322.55 957.83L308.44 971.93L294.34 957.83Z" fill="#fff" stroke="#000000" stroke-width="2.55" stroke-linejoin="miter"/><path d="M343.55 921.1L357.65 935.2L343.55 949.3L329.45 935.2Z" fill="#fff" stroke="#000000" stroke-width="2.55" stroke-linejoin="miter"/><path d="M378.66 904.12L392.76 918.22L378.66 932.32L364.56 918.22Z" fill="#fff" stroke="#000000" stroke-width="2.55" stroke-linejoin="miter"/><path d="M413.77 881.48L427.87 895.58L413.77 909.68L399.67 895.58Z" fill="#fff" stroke="#000000" stroke-width="2.55" stroke-linejoin="miter"/><path d="M448.88 870.17L462.98 884.27L448.88 898.37L434.78 884.27Z" fill="#fff" stroke="#000000" stroke-width="2.55" stroke-linejoin="miter"/><path d="M483.98 853.19L498.08 867.29L483.98 881.39L469.88 867.29Z" fill="#fff" stroke="#000000" stroke-width="2.55" stroke-linejoin="miter"/><path d="M519.09 836.21L533.19 850.31L519.09 864.41L504.99 850.31Z" fill="#fff" stroke="#000000" stroke-width="2.55" stroke-linejoin="miter"/><path d="M554.2 824.89L568.3 838.99L554.2 853.09L540.1 838.99Z" fill="#fff" stroke="#000000" stroke-width="2.55" stroke-linejoin="miter"/><path d="M589.3 813.58L603.4 827.68L589.3 841.78L575.2 827.68Z" fill="#fff" stroke="#000000" stroke-width="2.55" stroke-linejoin="miter"/><path d="M624.41 802.26L638.51 816.36L624.41 830.46L610.31 816.36Z" fill="#fff" stroke="#000000" stroke-width="2.55" stroke-linejoin="miter"/>
<polyline points="273.34,1065.35 308.44,1042.72 343.55,1020.08 378.66,997.45 413.77,986.13 448.88,969.15 483.98,957.83 519.09,940.86 554.2,929.54 589.3,923.88 624.41,918.22" fill="none" stroke="#ff0000" stroke-width="2.25" stroke-dasharray="10 9.3"/>
<rect x="263.74" y="1055.75" width="19.2" height="19.2" fill="#fff" stroke="#ff0000" stroke-width="2.55"/><rect x="298.84" y="1033.12" width="19.2" height="19.2" fill="#fff" stroke="#ff0000" stroke-width="2.55"/><rect x="333.95" y="1010.48" width="19.2" height="19.2" fill="#fff" stroke="#ff0000" stroke-width="2.55"/><rect x="369.06" y="987.85" width="19.2" height="19.2" fill="#fff" stroke="#ff0000" stroke-width="2.55"/><rect x="404.17" y="976.53" width="19.2" height="19.2" fill="#fff" stroke="#ff0000" stroke-width="2.55"/><rect x="439.28" y="959.55" width="19.2" height="19.2" fill="#fff" stroke="#ff0000" stroke-width="2.55"/><rect x="474.38" y="948.23" width="19.2" height="19.2" fill="#fff" stroke="#ff0000" stroke-width="2.55"/><rect x="509.49" y="931.26" width="19.2" height="19.2" fill="#fff" stroke="#ff0000" stroke-width="2.55"/><rect x="544.6" y="919.94" width="19.2" height="19.2" fill="#fff" stroke="#ff0000" stroke-width="2.55"/><rect x="579.7" y="914.28" width="19.2" height="19.2" fill="#fff" stroke="#ff0000" stroke-width="2.55"/><rect x="614.81" y="908.62" width="19.2" height="19.2" fill="#fff" stroke="#ff0000" stroke-width="2.55"/>
<polyline points="273.34,1054.04 308.44,1025.74 343.55,997.45 378.66,974.81 413.77,952.17 448.88,935.2 483.98,918.22 519.09,901.24 554.2,889.92 589.3,872.95 624.41,861.63" fill="none" stroke="#ff0000" stroke-width="2.25" stroke-dasharray="10 9.3"/>
<circle cx="273.34" cy="1054.04" r="10.9" fill="#fff" stroke="#ff0000" stroke-width="2.55"/><circle cx="308.44" cy="1025.74" r="10.9" fill="#fff" stroke="#ff0000" stroke-width="2.55"/><circle cx="343.55" cy="997.45" r="10.9" fill="#fff" stroke="#ff0000" stroke-width="2.55"/><circle cx="378.66" cy="974.81" r="10.9" fill="#fff" stroke="#ff0000" stroke-width="2.55"/><circle cx="413.77" cy="952.17" r="10.9" fill="#fff" stroke="#ff0000" stroke-width="2.55"/><circle cx="448.88" cy="935.2" r="10.9" fill="#fff" stroke="#ff0000" stroke-width="2.55"/><circle cx="483.98" cy="918.22" r="10.9" fill="#fff" stroke="#ff0000" stroke-width="2.55"/><circle cx="519.09" cy="901.24" r="10.9" fill="#fff" stroke="#ff0000" stroke-width="2.55"/><circle cx="554.2" cy="889.92" r="10.9" fill="#fff" stroke="#ff0000" stroke-width="2.55"/><circle cx="589.3" cy="872.95" r="10.9" fill="#fff" stroke="#ff0000" stroke-width="2.55"/><circle cx="624.41" cy="861.63" r="10.9" fill="#fff" stroke="#ff0000" stroke-width="2.55"/>
<polyline points="273.34,1071.01 308.44,1042.72 343.55,1020.08 378.66,997.45 413.77,980.47 448.88,963.49 483.98,952.17 519.09,935.2 554.2,923.88 589.3,912.56 624.41,901.24" fill="none" stroke="#ff0000" stroke-width="2.25" stroke-dasharray="10 9.3"/>
<path d="M273.34 1056.91L287.44 1071.01L273.34 1085.11L259.24 1071.01Z" fill="#fff" stroke="#ff0000" stroke-width="2.55" stroke-linejoin="miter"/><path d="M308.44 1028.62L322.55 1042.72L308.44 1056.82L294.34 1042.72Z" fill="#fff" stroke="#ff0000" stroke-width="2.55" stroke-linejoin="miter"/><path d="M343.55 1005.98L357.65 1020.08L343.55 1034.18L329.45 1020.08Z" fill="#fff" stroke="#ff0000" stroke-width="2.55" stroke-linejoin="miter"/><path d="M378.66 983.35L392.76 997.45L378.66 1011.55L364.56 997.45Z" fill="#fff" stroke="#ff0000" stroke-width="2.55" stroke-linejoin="miter"/><path d="M413.77 966.37L427.87 980.47L413.77 994.57L399.67 980.47Z" fill="#fff" stroke="#ff0000" stroke-width="2.55" stroke-linejoin="miter"/><path d="M448.88 949.39L462.98 963.49L448.88 977.59L434.78 963.49Z" fill="#fff" stroke="#ff0000" stroke-width="2.55" stroke-linejoin="miter"/><path d="M483.98 938.07L498.08 952.17L483.98 966.27L469.88 952.17Z" fill="#fff" stroke="#ff0000" stroke-width="2.55" stroke-linejoin="miter"/><path d="M519.09 921.1L533.19 935.2L519.09 949.3L504.99 935.2Z" fill="#fff" stroke="#ff0000" stroke-width="2.55" stroke-linejoin="miter"/><path d="M554.2 909.78L568.3 923.88L554.2 937.98L540.1 923.88Z" fill="#fff" stroke="#ff0000" stroke-width="2.55" stroke-linejoin="miter"/><path d="M589.3 898.46L603.4 912.56L589.3 926.66L575.2 912.56Z" fill="#fff" stroke="#ff0000" stroke-width="2.55" stroke-linejoin="miter"/><path d="M624.41 887.14L638.51 901.24L624.41 915.34L610.31 901.24Z" fill="#fff" stroke="#ff0000" stroke-width="2.55" stroke-linejoin="miter"/>
<polyline points="273.34,1116.28 308.44,1093.65 343.55,1071.01 378.66,1054.04 413.77,1037.06 448.88,1020.08 483.98,1008.76 519.09,997.45 554.2,986.13 589.3,974.81 624.41,963.49" fill="none" stroke="#0000ff" stroke-width="2.25" stroke-dasharray="10 9.3"/>
<rect x="263.74" y="1106.68" width="19.2" height="19.2" fill="#fff" stroke="#0000ff" stroke-width="2.55"/><rect x="298.84" y="1084.05" width="19.2" height="19.2" fill="#fff" stroke="#0000ff" stroke-width="2.55"/><rect x="333.95" y="1061.41" width="19.2" height="19.2" fill="#fff" stroke="#0000ff" stroke-width="2.55"/><rect x="369.06" y="1044.44" width="19.2" height="19.2" fill="#fff" stroke="#0000ff" stroke-width="2.55"/><rect x="404.17" y="1027.46" width="19.2" height="19.2" fill="#fff" stroke="#0000ff" stroke-width="2.55"/><rect x="439.28" y="1010.48" width="19.2" height="19.2" fill="#fff" stroke="#0000ff" stroke-width="2.55"/><rect x="474.38" y="999.16" width="19.2" height="19.2" fill="#fff" stroke="#0000ff" stroke-width="2.55"/><rect x="509.49" y="987.85" width="19.2" height="19.2" fill="#fff" stroke="#0000ff" stroke-width="2.55"/><rect x="544.6" y="976.53" width="19.2" height="19.2" fill="#fff" stroke="#0000ff" stroke-width="2.55"/><rect x="579.7" y="965.21" width="19.2" height="19.2" fill="#fff" stroke="#0000ff" stroke-width="2.55"/><rect x="614.81" y="953.89" width="19.2" height="19.2" fill="#fff" stroke="#0000ff" stroke-width="2.55"/>
<polyline points="273.34,1110.63 308.44,1082.33 343.55,1054.04 378.66,1037.06 413.77,1014.42 448.88,997.45 483.98,980.47 519.09,969.15 554.2,952.17 589.3,940.86 624.41,929.54" fill="none" stroke="#0000ff" stroke-width="2.25" stroke-dasharray="10 9.3"/>
<circle cx="273.34" cy="1110.63" r="10.9" fill="#fff" stroke="#0000ff" stroke-width="2.55"/><circle cx="308.44" cy="1082.33" r="10.9" fill="#fff" stroke="#0000ff" stroke-width="2.55"/><circle cx="343.55" cy="1054.04" r="10.9" fill="#fff" stroke="#0000ff" stroke-width="2.55"/><circle cx="378.66" cy="1037.06" r="10.9" fill="#fff" stroke="#0000ff" stroke-width="2.55"/><circle cx="413.77" cy="1014.42" r="10.9" fill="#fff" stroke="#0000ff" stroke-width="2.55"/><circle cx="448.88" cy="997.45" r="10.9" fill="#fff" stroke="#0000ff" stroke-width="2.55"/><circle cx="483.98" cy="980.47" r="10.9" fill="#fff" stroke="#0000ff" stroke-width="2.55"/><circle cx="519.09" cy="969.15" r="10.9" fill="#fff" stroke="#0000ff" stroke-width="2.55"/><circle cx="554.2" cy="952.17" r="10.9" fill="#fff" stroke="#0000ff" stroke-width="2.55"/><circle cx="589.3" cy="940.86" r="10.9" fill="#fff" stroke="#0000ff" stroke-width="2.55"/><circle cx="624.41" cy="929.54" r="10.9" fill="#fff" stroke="#0000ff" stroke-width="2.55"/>
<polyline points="273.34,1121.94 308.44,1093.65 343.55,1071.01 378.66,1054.04 413.77,1037.06 448.88,1020.08 483.98,1003.11 519.09,991.79 554.2,980.47 589.3,969.15 624.41,957.83" fill="none" stroke="#0000ff" stroke-width="2.25" stroke-dasharray="10 9.3"/>
<path d="M273.34 1107.84L287.44 1121.94L273.34 1136.04L259.24 1121.94Z" fill="#fff" stroke="#0000ff" stroke-width="2.55" stroke-linejoin="miter"/><path d="M308.44 1079.55L322.55 1093.65L308.44 1107.75L294.34 1093.65Z" fill="#fff" stroke="#0000ff" stroke-width="2.55" stroke-linejoin="miter"/><path d="M343.55 1056.91L357.65 1071.01L343.55 1085.11L329.45 1071.01Z" fill="#fff" stroke="#0000ff" stroke-width="2.55" stroke-linejoin="miter"/><path d="M378.66 1039.94L392.76 1054.04L378.66 1068.14L364.56 1054.04Z" fill="#fff" stroke="#0000ff" stroke-width="2.55" stroke-linejoin="miter"/><path d="M413.77 1022.96L427.87 1037.06L413.77 1051.16L399.67 1037.06Z" fill="#fff" stroke="#0000ff" stroke-width="2.55" stroke-linejoin="miter"/><path d="M448.88 1005.98L462.98 1020.08L448.88 1034.18L434.78 1020.08Z" fill="#fff" stroke="#0000ff" stroke-width="2.55" stroke-linejoin="miter"/><path d="M483.98 989L498.08 1003.11L483.98 1017.21L469.88 1003.11Z" fill="#fff" stroke="#0000ff" stroke-width="2.55" stroke-linejoin="miter"/><path d="M519.09 977.69L533.19 991.79L519.09 1005.89L504.99 991.79Z" fill="#fff" stroke="#0000ff" stroke-width="2.55" stroke-linejoin="miter"/><path d="M554.2 966.37L568.3 980.47L554.2 994.57L540.1 980.47Z" fill="#fff" stroke="#0000ff" stroke-width="2.55" stroke-linejoin="miter"/><path d="M589.3 955.05L603.4 969.15L589.3 983.25L575.2 969.15Z" fill="#fff" stroke="#0000ff" stroke-width="2.55" stroke-linejoin="miter"/><path d="M624.41 943.73L638.51 957.83L624.41 971.93L610.31 957.83Z" fill="#fff" stroke="#0000ff" stroke-width="2.55" stroke-linejoin="miter"/>
<text transform="translate(104.9 789.6) scale(0.9662 1)" font-size="30.43" fill="#000000" stroke="#000000" text-anchor="start">(c) Different <tspan font-style="italic">m</tspan><tspan font-style="italic" font-size="20.18" dy="8.2" dx="0">i</tspan><tspan dy="-8.2">, </tspan><tspan font-style="italic">β</tspan>= 30°</text>
<text transform="translate(156.8 988.7) scale(0.9662 1)" font-size="30.43" fill="#000000" stroke="#000000" text-anchor="start">H=10m</text>
<text transform="translate(155.9 1066.5) scale(0.9662 1)" font-size="30.43" fill="#ff0000" stroke="#ff0000" text-anchor="start">H=20m</text>
<text transform="translate(152.5 1136.6) scale(0.9662 1)" font-size="30.43" fill="#0000ff" stroke="#0000ff" text-anchor="start">H=30m</text>
<path d="M664.4 870.6H731.9" stroke="#000000" stroke-width="2.4" stroke-dasharray="9.8 9.4" fill="none"/>
<rect x="688.4" y="861" width="19.2" height="19.2" fill="#fff" stroke="#000000" stroke-width="2.55"/>
<text transform="translate(738 880.8) scale(0.9662 1)" font-size="30.43" fill="#000000" stroke="#000000" text-anchor="start">HB</text>
<path d="M664.4 906.75H731.9" stroke="#000000" stroke-width="2.4" stroke-dasharray="9.8 9.4" fill="none"/>
<circle cx="698" cy="906.75" r="10.9" fill="#fff" stroke="#000000" stroke-width="2.55"/>
<text transform="translate(738 916.95) scale(0.9662 1)" font-size="30.43" fill="#000000" stroke="#000000" text-anchor="start">1#</text>
<path d="M664.4 942.9H731.9" stroke="#000000" stroke-width="2.4" stroke-dasharray="9.8 9.4" fill="none"/>
<path d="M698 928.8L712.1 942.9L698 957L683.9 942.9Z" fill="#fff" stroke="#000000" stroke-width="2.55" stroke-linejoin="miter"/>
<text transform="translate(738 953.1) scale(0.9662 1)" font-size="30.43" fill="#000000" stroke="#000000" text-anchor="start">2#</text>
<path d="M664.4 979.05H731.9" stroke="#ff0000" stroke-width="2.4" stroke-dasharray="9.8 9.4" fill="none"/>
<rect x="688.4" y="969.45" width="19.2" height="19.2" fill="#fff" stroke="#ff0000" stroke-width="2.55"/>
<text transform="translate(738 989.25) scale(0.9662 1)" font-size="30.43" fill="#ff0000" stroke="#ff0000" text-anchor="start">HB</text>
<path d="M664.4 1015.2H731.9" stroke="#ff0000" stroke-width="2.4" stroke-dasharray="9.8 9.4" fill="none"/>
<circle cx="698" cy="1015.2" r="10.9" fill="#fff" stroke="#ff0000" stroke-width="2.55"/>
<text transform="translate(738 1025.4) scale(0.9662 1)" font-size="30.43" fill="#ff0000" stroke="#ff0000" text-anchor="start">1#</text>
<path d="M664.4 1051.35H731.9" stroke="#ff0000" stroke-width="2.4" stroke-dasharray="9.8 9.4" fill="none"/>
<path d="M698 1037.25L712.1 1051.35L698 1065.45L683.9 1051.35Z" fill="#fff" stroke="#ff0000" stroke-width="2.55" stroke-linejoin="miter"/>
<text transform="translate(738 1061.55) scale(0.9662 1)" font-size="30.43" fill="#ff0000" stroke="#ff0000" text-anchor="start">2#</text>
<path d="M664.4 1087.5H731.9" stroke="#0000ff" stroke-width="2.4" stroke-dasharray="9.8 9.4" fill="none"/>
<rect x="688.4" y="1077.9" width="19.2" height="19.2" fill="#fff" stroke="#0000ff" stroke-width="2.55"/>
<text transform="translate(738 1097.7) scale(0.9662 1)" font-size="30.43" fill="#0000ff" stroke="#0000ff" text-anchor="start">HB</text>
<path d="M664.4 1123.65H731.9" stroke="#0000ff" stroke-width="2.4" stroke-dasharray="9.8 9.4" fill="none"/>
<circle cx="698" cy="1123.65" r="10.9" fill="#fff" stroke="#0000ff" stroke-width="2.55"/>
<text transform="translate(738 1133.85) scale(0.9662 1)" font-size="30.43" fill="#0000ff" stroke="#0000ff" text-anchor="start">1#</text>
<path d="M664.4 1159.8H731.9" stroke="#0000ff" stroke-width="2.4" stroke-dasharray="9.8 9.4" fill="none"/>
<path d="M698 1145.7L712.1 1159.8L698 1173.9L683.9 1159.8Z" fill="#fff" stroke="#0000ff" stroke-width="2.55" stroke-linejoin="miter"/>
<text transform="translate(738 1170) scale(0.9662 1)" font-size="30.43" fill="#0000ff" stroke="#0000ff" text-anchor="start">2#</text>
</g>
<g id="panel-d">
<path d="M1076.16 748.45V1314.35M1216.62 748.45V1314.35M1357.08 748.45V1314.35M1497.54 748.45V1314.35M935.7 1201.17H1638M935.7 1087.99H1638M935.7 974.81H1638M935.7 861.63H1638" fill="none" stroke="#808080" stroke-width="1.0" stroke-dasharray="4.2 3.35"/>
<rect x="935.7" y="748.45" width="702.3" height="565.9" fill="none" stroke="#000" stroke-width="2.3"/>
<path d="M935.7 1314.35V1302.95M1076.16 1314.35V1302.95M1216.62 1314.35V1302.95M1357.08 1314.35V1302.95M1497.54 1314.35V1302.95M1638 1314.35V1302.95M1005.93 1314.35V1308.55M1146.39 1314.35V1308.55M1286.85 1314.35V1308.55M1427.31 1314.35V1308.55M1567.77 1314.35V1308.55M935.7 1314.35H947.1M935.7 1201.17H947.1M935.7 1087.99H947.1M935.7 974.81H947.1M935.7 861.63H947.1M935.7 748.45H947.1M935.7 1257.76H941.5M935.7 1144.58H941.5M935.7 1031.4H941.5M935.7 918.22H941.5M935.7 805.04H941.5" fill="none" stroke="#000" stroke-width="2.3"/>
<text transform="translate(936 1355.95) scale(0.9533 1)" font-size="39.6" fill="#000000" stroke="#000000" text-anchor="middle">0.0</text>
<text transform="translate(1076.46 1355.95) scale(0.9533 1)" font-size="39.6" fill="#000000" stroke="#000000" text-anchor="middle">0.2</text>
<text transform="translate(1216.92 1355.95) scale(0.9533 1)" font-size="39.6" fill="#000000" stroke="#000000" text-anchor="middle">0.4</text>
<text transform="translate(1357.38 1355.95) scale(0.9533 1)" font-size="39.6" fill="#000000" stroke="#000000" text-anchor="middle">0.6</text>
<text transform="translate(1497.84 1355.95) scale(0.9533 1)" font-size="39.6" fill="#000000" stroke="#000000" text-anchor="middle">0.8</text>
<text transform="translate(1638.3 1355.95) scale(0.9533 1)" font-size="39.6" fill="#000000" stroke="#000000" text-anchor="middle">1.0</text>
<text transform="translate(923.8 1325.85) scale(0.9533 1)" font-size="39.6" fill="#000000" stroke="#000000" text-anchor="end">0.0</text>
<text transform="translate(923.8 1212.67) scale(0.9533 1)" font-size="39.6" fill="#000000" stroke="#000000" text-anchor="end">0.2</text>
<text transform="translate(923.8 1099.49) scale(0.9533 1)" font-size="39.6" fill="#000000" stroke="#000000" text-anchor="end">0.4</text>
<text transform="translate(923.8 986.31) scale(0.9533 1)" font-size="39.6" fill="#000000" stroke="#000000" text-anchor="end">0.6</text>
<text transform="translate(923.8 873.13) scale(0.9533 1)" font-size="39.6" fill="#000000" stroke="#000000" text-anchor="end">0.8</text>
<text transform="translate(923.8 759.95) scale(0.9533 1)" font-size="39.6" fill="#000000" stroke="#000000" text-anchor="end">1.0</text>
<text transform="translate(1286.85 1392.05) scale(1 1)" font-size="36.6" fill="#000000" stroke="#000000" text-anchor="middle" font-style="italic">D</text>
<text transform="translate(863.1 1031.4) rotate(-90) scale(1 1)" font-size="38" fill="#000000" stroke="#000000" text-anchor="middle">Ac</text>
<polyline points="935.7,827.68 1005.93,855.97 1076.16,884.27 1146.39,912.56 1216.62,946.51 1286.85,986.13 1357.08,1025.74 1427.31,1071.01 1497.54,1121.94 1567.77,1184.19 1638,1246.44" fill="none" stroke="#000000" stroke-width="2.25" stroke-dasharray="10 9.3"/>
<rect x="926.1" y="818.08" width="19.2" height="19.2" fill="#fff" stroke="#000000" stroke-width="2.55"/><rect x="996.33" y="846.37" width="19.2" height="19.2" fill="#fff" stroke="#000000" stroke-width="2.55"/><rect x="1066.56" y="874.67" width="19.2" height="19.2" fill="#fff" stroke="#000000" stroke-width="2.55"/><rect x="1136.79" y="902.96" width="19.2" height="19.2" fill="#fff" stroke="#000000" stroke-width="2.55"/><rect x="1207.02" y="936.91" width="19.2" height="19.2" fill="#fff" stroke="#000000" stroke-width="2.55"/><rect x="1277.25" y="976.53" width="19.2" height="19.2" fill="#fff" stroke="#000000" stroke-width="2.55"/><rect x="1347.48" y="1016.14" width="19.2" height="19.2" fill="#fff" stroke="#000000" stroke-width="2.55"/><rect x="1417.71" y="1061.41" width="19.2" height="19.2" fill="#fff" stroke="#000000" stroke-width="2.55"/><rect x="1487.94" y="1112.34" width="19.2" height="19.2" fill="#fff" stroke="#000000" stroke-width="2.55"/><rect x="1558.17" y="1174.59" width="19.2" height="19.2" fill="#fff" stroke="#000000" stroke-width="2.55"/><rect x="1628.4" y="1236.84" width="19.2" height="19.2" fill="#fff" stroke="#000000" stroke-width="2.55"/>
<polyline points="935.7,765.43 1005.93,799.38 1076.16,833.34 1146.39,867.29 1216.62,912.56 1286.85,952.17 1357.08,1003.11 1427.31,1054.04 1497.54,1116.28 1567.77,1178.53 1638,1252.1" fill="none" stroke="#000000" stroke-width="2.25" stroke-dasharray="10 9.3"/>
<circle cx="935.7" cy="765.43" r="10.9" fill="#fff" stroke="#000000" stroke-width="2.55"/><circle cx="1005.93" cy="799.38" r="10.9" fill="#fff" stroke="#000000" stroke-width="2.55"/><circle cx="1076.16" cy="833.34" r="10.9" fill="#fff" stroke="#000000" stroke-width="2.55"/><circle cx="1146.39" cy="867.29" r="10.9" fill="#fff" stroke="#000000" stroke-width="2.55"/><circle cx="1216.62" cy="912.56" r="10.9" fill="#fff" stroke="#000000" stroke-width="2.55"/><circle cx="1286.85" cy="952.17" r="10.9" fill="#fff" stroke="#000000" stroke-width="2.55"/><circle cx="1357.08" cy="1003.11" r="10.9" fill="#fff" stroke="#000000" stroke-width="2.55"/><circle cx="1427.31" cy="1054.04" r="10.9" fill="#fff" stroke="#000000" stroke-width="2.55"/><circle cx="1497.54" cy="1116.28" r="10.9" fill="#fff" stroke="#000000" stroke-width="2.55"/><circle cx="1567.77" cy="1178.53" r="10.9" fill="#fff" stroke="#000000" stroke-width="2.55"/><circle cx="1638" cy="1252.1" r="10.9" fill="#fff" stroke="#000000" stroke-width="2.55"/>
<polyline points="935.7,822.02 1005.93,850.31 1076.16,878.61 1146.39,912.56 1216.62,946.51 1286.85,986.13 1357.08,1025.74 1427.31,1076.67 1497.54,1127.6 1567.77,1189.85 1638,1257.76" fill="none" stroke="#000000" stroke-width="2.25" stroke-dasharray="10 9.3"/>
<path d="M935.7 807.92L949.8 822.02L935.7 836.12L921.6 822.02Z" fill="#fff" stroke="#000000" stroke-width="2.55" stroke-linejoin="miter"/><path d="M1005.93 836.21L1020.03 850.31L1005.93 864.41L991.83 850.31Z" fill="#fff" stroke="#000000" stroke-width="2.55" stroke-linejoin="miter"/><path d="M1076.16 864.51L1090.26 878.61L1076.16 892.71L1062.06 878.61Z" fill="#fff" stroke="#000000" stroke-width="2.55" stroke-linejoin="miter"/><path d="M1146.39 898.46L1160.49 912.56L1146.39 926.66L1132.29 912.56Z" fill="#fff" stroke="#000000" stroke-width="2.55" stroke-linejoin="miter"/><path d="M1216.62 932.41L1230.72 946.51L1216.62 960.62L1202.52 946.51Z" fill="#fff" stroke="#000000" stroke-width="2.55" stroke-linejoin="miter"/><path d="M1286.85 972.03L1300.95 986.13L1286.85 1000.23L1272.75 986.13Z" fill="#fff" stroke="#000000" stroke-width="2.55" stroke-linejoin="miter"/><path d="M1357.08 1011.64L1371.18 1025.74L1357.08 1039.84L1342.98 1025.74Z" fill="#fff" stroke="#000000" stroke-width="2.55" stroke-linejoin="miter"/><path d="M1427.31 1062.57L1441.41 1076.67L1427.31 1090.77L1413.21 1076.67Z" fill="#fff" stroke="#000000" stroke-width="2.55" stroke-linejoin="miter"/><path d="M1497.54 1113.5L1511.64 1127.6L1497.54 1141.7L1483.44 1127.6Z" fill="#fff" stroke="#000000" stroke-width="2.55" stroke-linejoin="miter"/><path d="M1567.77 1175.75L1581.87 1189.85L1567.77 1203.95L1553.67 1189.85Z" fill="#fff" stroke="#000000" stroke-width="2.55" stroke-linejoin="miter"/><path d="M1638 1243.66L1652.1 1257.76L1638 1271.86L1623.9 1257.76Z" fill="#fff" stroke="#000000" stroke-width="2.55" stroke-linejoin="miter"/>
<polyline points="935.7,918.22 1005.93,946.51 1076.16,969.15 1146.39,997.45 1216.62,1031.4 1286.85,1065.35 1357.08,1104.97 1427.31,1150.24 1497.54,1195.51 1567.77,1252.1 1638,1314.35" fill="none" stroke="#ff0000" stroke-width="2.25" stroke-dasharray="10 9.3"/>
<rect x="926.1" y="908.62" width="19.2" height="19.2" fill="#fff" stroke="#ff0000" stroke-width="2.55"/><rect x="996.33" y="936.91" width="19.2" height="19.2" fill="#fff" stroke="#ff0000" stroke-width="2.55"/><rect x="1066.56" y="959.55" width="19.2" height="19.2" fill="#fff" stroke="#ff0000" stroke-width="2.55"/><rect x="1136.79" y="987.85" width="19.2" height="19.2" fill="#fff" stroke="#ff0000" stroke-width="2.55"/><rect x="1207.02" y="1021.8" width="19.2" height="19.2" fill="#fff" stroke="#ff0000" stroke-width="2.55"/><rect x="1277.25" y="1055.75" width="19.2" height="19.2" fill="#fff" stroke="#ff0000" stroke-width="2.55"/><rect x="1347.48" y="1095.37" width="19.2" height="19.2" fill="#fff" stroke="#ff0000" stroke-width="2.55"/><rect x="1417.71" y="1140.64" width="19.2" height="19.2" fill="#fff" stroke="#ff0000" stroke-width="2.55"/><rect x="1487.94" y="1185.91" width="19.2" height="19.2" fill="#fff" stroke="#ff0000" stroke-width="2.55"/><rect x="1558.17" y="1242.5" width="19.2" height="19.2" fill="#fff" stroke="#ff0000" stroke-width="2.55"/><rect x="1628.4" y="1304.75" width="19.2" height="19.2" fill="#fff" stroke="#ff0000" stroke-width="2.55"/>
<polyline points="935.7,884.27 1005.93,912.56 1076.16,940.86 1146.39,974.81 1216.62,1014.42 1286.85,1054.04 1357.08,1099.31 1427.31,1144.58 1497.54,1195.51 1567.77,1252.1 1638,1314.35" fill="none" stroke="#ff0000" stroke-width="2.25" stroke-dasharray="10 9.3"/>
<circle cx="935.7" cy="884.27" r="10.9" fill="#fff" stroke="#ff0000" stroke-width="2.55"/><circle cx="1005.93" cy="912.56" r="10.9" fill="#fff" stroke="#ff0000" stroke-width="2.55"/><circle cx="1076.16" cy="940.86" r="10.9" fill="#fff" stroke="#ff0000" stroke-width="2.55"/><circle cx="1146.39" cy="974.81" r="10.9" fill="#fff" stroke="#ff0000" stroke-width="2.55"/><circle cx="1216.62" cy="1014.42" r="10.9" fill="#fff" stroke="#ff0000" stroke-width="2.55"/><circle cx="1286.85" cy="1054.04" r="10.9" fill="#fff" stroke="#ff0000" stroke-width="2.55"/><circle cx="1357.08" cy="1099.31" r="10.9" fill="#fff" stroke="#ff0000" stroke-width="2.55"/><circle cx="1427.31" cy="1144.58" r="10.9" fill="#fff" stroke="#ff0000" stroke-width="2.55"/><circle cx="1497.54" cy="1195.51" r="10.9" fill="#fff" stroke="#ff0000" stroke-width="2.55"/><circle cx="1567.77" cy="1252.1" r="10.9" fill="#fff" stroke="#ff0000" stroke-width="2.55"/><circle cx="1638" cy="1314.35" r="10.9" fill="#fff" stroke="#ff0000" stroke-width="2.55"/>
<polyline points="935.7,918.22 1005.93,940.86 1076.16,969.15 1146.39,1003.11 1216.62,1031.4 1286.85,1071.01 1357.08,1110.63 1427.31,1155.9 1497.54,1201.17 1567.77,1257.76 1638,1314.35" fill="none" stroke="#ff0000" stroke-width="2.25" stroke-dasharray="10 9.3"/>
<path d="M935.7 904.12L949.8 918.22L935.7 932.32L921.6 918.22Z" fill="#fff" stroke="#ff0000" stroke-width="2.55" stroke-linejoin="miter"/><path d="M1005.93 926.76L1020.03 940.86L1005.93 954.96L991.83 940.86Z" fill="#fff" stroke="#ff0000" stroke-width="2.55" stroke-linejoin="miter"/><path d="M1076.16 955.05L1090.26 969.15L1076.16 983.25L1062.06 969.15Z" fill="#fff" stroke="#ff0000" stroke-width="2.55" stroke-linejoin="miter"/><path d="M1146.39 989L1160.49 1003.11L1146.39 1017.21L1132.29 1003.11Z" fill="#fff" stroke="#ff0000" stroke-width="2.55" stroke-linejoin="miter"/><path d="M1216.62 1017.3L1230.72 1031.4L1216.62 1045.5L1202.52 1031.4Z" fill="#fff" stroke="#ff0000" stroke-width="2.55" stroke-linejoin="miter"/><path d="M1286.85 1056.91L1300.95 1071.01L1286.85 1085.11L1272.75 1071.01Z" fill="#fff" stroke="#ff0000" stroke-width="2.55" stroke-linejoin="miter"/><path d="M1357.08 1096.53L1371.18 1110.63L1357.08 1124.73L1342.98 1110.63Z" fill="#fff" stroke="#ff0000" stroke-width="2.55" stroke-linejoin="miter"/><path d="M1427.31 1141.8L1441.41 1155.9L1427.31 1170L1413.21 1155.9Z" fill="#fff" stroke="#ff0000" stroke-width="2.55" stroke-linejoin="miter"/><path d="M1497.54 1187.07L1511.64 1201.17L1497.54 1215.27L1483.44 1201.17Z" fill="#fff" stroke="#ff0000" stroke-width="2.55" stroke-linejoin="miter"/><path d="M1567.77 1243.66L1581.87 1257.76L1567.77 1271.86L1553.67 1257.76Z" fill="#fff" stroke="#ff0000" stroke-width="2.55" stroke-linejoin="miter"/><path d="M1638 1300.25L1652.1 1314.35L1638 1328.45L1623.9 1314.35Z" fill="#fff" stroke="#ff0000" stroke-width="2.55" stroke-linejoin="miter"/>
<polyline points="935.7,974.81 1005.93,997.45 1076.16,1025.74 1146.39,1054.04 1216.62,1082.33 1286.85,1116.28 1357.08,1155.9 1427.31,1195.51 1497.54,1240.78 1567.77,1297.37 1638,1314.35" fill="none" stroke="#0000ff" stroke-width="2.25" stroke-dasharray="10 9.3"/>
<rect x="926.1" y="965.21" width="19.2" height="19.2" fill="#fff" stroke="#0000ff" stroke-width="2.55"/><rect x="996.33" y="987.85" width="19.2" height="19.2" fill="#fff" stroke="#0000ff" stroke-width="2.55"/><rect x="1066.56" y="1016.14" width="19.2" height="19.2" fill="#fff" stroke="#0000ff" stroke-width="2.55"/><rect x="1136.79" y="1044.44" width="19.2" height="19.2" fill="#fff" stroke="#0000ff" stroke-width="2.55"/><rect x="1207.02" y="1072.73" width="19.2" height="19.2" fill="#fff" stroke="#0000ff" stroke-width="2.55"/><rect x="1277.25" y="1106.68" width="19.2" height="19.2" fill="#fff" stroke="#0000ff" stroke-width="2.55"/><rect x="1347.48" y="1146.3" width="19.2" height="19.2" fill="#fff" stroke="#0000ff" stroke-width="2.55"/><rect x="1417.71" y="1185.91" width="19.2" height="19.2" fill="#fff" stroke="#0000ff" stroke-width="2.55"/><rect x="1487.94" y="1231.18" width="19.2" height="19.2" fill="#fff" stroke="#0000ff" stroke-width="2.55"/><rect x="1558.17" y="1287.77" width="19.2" height="19.2" fill="#fff" stroke="#0000ff" stroke-width="2.55"/><rect x="1628.4" y="1304.75" width="19.2" height="19.2" fill="#fff" stroke="#0000ff" stroke-width="2.55"/>
<polyline points="935.7,952.17 1005.93,974.81 1076.16,1008.76 1146.39,1037.06 1216.62,1071.01 1286.85,1110.63 1357.08,1150.24 1427.31,1195.51 1497.54,1246.44 1567.77,1303.03 1638,1314.35" fill="none" stroke="#0000ff" stroke-width="2.25" stroke-dasharray="10 9.3"/>
<circle cx="935.7" cy="952.17" r="10.9" fill="#fff" stroke="#0000ff" stroke-width="2.55"/><circle cx="1005.93" cy="974.81" r="10.9" fill="#fff" stroke="#0000ff" stroke-width="2.55"/><circle cx="1076.16" cy="1008.76" r="10.9" fill="#fff" stroke="#0000ff" stroke-width="2.55"/><circle cx="1146.39" cy="1037.06" r="10.9" fill="#fff" stroke="#0000ff" stroke-width="2.55"/><circle cx="1216.62" cy="1071.01" r="10.9" fill="#fff" stroke="#0000ff" stroke-width="2.55"/><circle cx="1286.85" cy="1110.63" r="10.9" fill="#fff" stroke="#0000ff" stroke-width="2.55"/><circle cx="1357.08" cy="1150.24" r="10.9" fill="#fff" stroke="#0000ff" stroke-width="2.55"/><circle cx="1427.31" cy="1195.51" r="10.9" fill="#fff" stroke="#0000ff" stroke-width="2.55"/><circle cx="1497.54" cy="1246.44" r="10.9" fill="#fff" stroke="#0000ff" stroke-width="2.55"/><circle cx="1567.77" cy="1303.03" r="10.9" fill="#fff" stroke="#0000ff" stroke-width="2.55"/><circle cx="1638" cy="1314.35" r="10.9" fill="#fff" stroke="#0000ff" stroke-width="2.55"/>
<polyline points="935.7,974.81 1005.93,997.45 1076.16,1025.74 1146.39,1054.04 1216.62,1087.99 1286.85,1121.94 1357.08,1161.56 1427.31,1201.17 1497.54,1252.1 1567.77,1303.03 1638,1314.35" fill="none" stroke="#0000ff" stroke-width="2.25" stroke-dasharray="10 9.3"/>
<path d="M935.7 960.71L949.8 974.81L935.7 988.91L921.6 974.81Z" fill="#fff" stroke="#0000ff" stroke-width="2.55" stroke-linejoin="miter"/><path d="M1005.93 983.35L1020.03 997.45L1005.93 1011.55L991.83 997.45Z" fill="#fff" stroke="#0000ff" stroke-width="2.55" stroke-linejoin="miter"/><path d="M1076.16 1011.64L1090.26 1025.74L1076.16 1039.84L1062.06 1025.74Z" fill="#fff" stroke="#0000ff" stroke-width="2.55" stroke-linejoin="miter"/><path d="M1146.39 1039.94L1160.49 1054.04L1146.39 1068.14L1132.29 1054.04Z" fill="#fff" stroke="#0000ff" stroke-width="2.55" stroke-linejoin="miter"/><path d="M1216.62 1073.89L1230.72 1087.99L1216.62 1102.09L1202.52 1087.99Z" fill="#fff" stroke="#0000ff" stroke-width="2.55" stroke-linejoin="miter"/><path d="M1286.85 1107.84L1300.95 1121.94L1286.85 1136.04L1272.75 1121.94Z" fill="#fff" stroke="#0000ff" stroke-width="2.55" stroke-linejoin="miter"/><path d="M1357.08 1147.46L1371.18 1161.56L1357.08 1175.66L1342.98 1161.56Z" fill="#fff" stroke="#0000ff" stroke-width="2.55" stroke-linejoin="miter"/><path d="M1427.31 1187.07L1441.41 1201.17L1427.31 1215.27L1413.21 1201.17Z" fill="#fff" stroke="#0000ff" stroke-width="2.55" stroke-linejoin="miter"/><path d="M1497.54 1238L1511.64 1252.1L1497.54 1266.2L1483.44 1252.1Z" fill="#fff" stroke="#0000ff" stroke-width="2.55" stroke-linejoin="miter"/><path d="M1567.77 1288.93L1581.87 1303.03L1567.77 1317.13L1553.67 1303.03Z" fill="#fff" stroke="#0000ff" stroke-width="2.55" stroke-linejoin="miter"/><path d="M1638 1300.25L1652.1 1314.35L1638 1328.45L1623.9 1314.35Z" fill="#fff" stroke="#0000ff" stroke-width="2.55" stroke-linejoin="miter"/>
<text transform="translate(1097.4 788.7) scale(0.9662 1)" font-size="30.43" fill="#000000" stroke="#000000" text-anchor="start">(d) Different <tspan font-style="italic">D</tspan>, <tspan font-style="italic">β</tspan>= 30°</text>
<text transform="translate(1412.8 817.5) scale(0.9662 1)" font-size="30.43" fill="#000000" stroke="#000000" text-anchor="start">H=10m</text>
<text transform="translate(1414 931) scale(0.9662 1)" font-size="30.43" fill="#ff0000" stroke="#ff0000" text-anchor="start">H=20m</text>
<text transform="translate(1416.4 1029) scale(0.9662 1)" font-size="30.43" fill="#0000ff" stroke="#0000ff" text-anchor="start">H=30m</text>
<path d="M1512.4 775.2H1579.9" stroke="#000000" stroke-width="2.2" stroke-dasharray="9.8 9.4" fill="none"/>
<rect x="1536.4" y="765.6" width="19.2" height="19.2" fill="#fff" stroke="#000000" stroke-width="2.55"/>
<text transform="translate(1586 785.4) scale(0.9662 1)" font-size="30.43" fill="#000000" stroke="#000000" text-anchor="start">HB</text>
<path d="M1512.4 811.4H1579.9" stroke="#000000" stroke-width="2.2" stroke-dasharray="9.8 9.4" fill="none"/>
<circle cx="1546" cy="811.4" r="10.9" fill="#fff" stroke="#000000" stroke-width="2.55"/>
<text transform="translate(1586 821.6) scale(0.9662 1)" font-size="30.43" fill="#000000" stroke="#000000" text-anchor="start">1#</text>
<path d="M1512.4 847.6H1579.9" stroke="#000000" stroke-width="2.2" stroke-dasharray="9.8 9.4" fill="none"/>
<path d="M1546 833.5L1560.1 847.6L1546 861.7L1531.9 847.6Z" fill="#fff" stroke="#000000" stroke-width="2.55" stroke-linejoin="miter"/>
<text transform="translate(1586 857.8) scale(0.9662 1)" font-size="30.43" fill="#000000" stroke="#000000" text-anchor="start">2#</text>
<path d="M1512.4 883.8H1579.9" stroke="#ff0000" stroke-width="2.2" stroke-dasharray="9.8 9.4" fill="none"/>
<rect x="1536.4" y="874.2" width="19.2" height="19.2" fill="#fff" stroke="#ff0000" stroke-width="2.55"/>
<text transform="translate(1586 894) scale(0.9662 1)" font-size="30.43" fill="#ff0000" stroke="#ff0000" text-anchor="start">HB</text>
<path d="M1512.4 920H1579.9" stroke="#ff0000" stroke-width="2.2" stroke-dasharray="9.8 9.4" fill="none"/>
<circle cx="1546" cy="920" r="10.9" fill="#fff" stroke="#ff0000" stroke-width="2.55"/>
<text transform="translate(1586 930.2) scale(0.9662 1)" font-size="30.43" fill="#ff0000" stroke="#ff0000" text-anchor="start">1#</text>
<path d="M1512.4 956.2H1579.9" stroke="#ff0000" stroke-width="2.2" stroke-dasharray="9.8 9.4" fill="none"/>
<path d="M1546 942.1L1560.1 956.2L1546 970.3L1531.9 956.2Z" fill="#fff" stroke="#ff0000" stroke-width="2.55" stroke-linejoin="miter"/>
<text transform="translate(1586 966.4) scale(0.9662 1)" font-size="30.43" fill="#ff0000" stroke="#ff0000" text-anchor="start">2#</text>
<path d="M1512.4 992.4H1579.9" stroke="#0000ff" stroke-width="2.2" stroke-dasharray="9.8 9.4" fill="none"/>
<rect x="1536.4" y="982.8" width="19.2" height="19.2" fill="#fff" stroke="#0000ff" stroke-width="2.55"/>
<text transform="translate(1586 1002.6) scale(0.9662 1)" font-size="30.43" fill="#0000ff" stroke="#0000ff" text-anchor="start">HB</text>
<path d="M1512.4 1028.6H1579.9" stroke="#0000ff" stroke-width="2.2" stroke-dasharray="9.8 9.4" fill="none"/>
<circle cx="1546" cy="1028.6" r="10.9" fill="#fff" stroke="#0000ff" stroke-width="2.55"/>
<text transform="translate(1586 1038.8) scale(0.9662 1)" font-size="30.43" fill="#0000ff" stroke="#0000ff" text-anchor="start">1#</text>
<path d="M1512.4 1064.8H1579.9" stroke="#0000ff" stroke-width="2.2" stroke-dasharray="9.8 9.4" fill="none"/>
<path d="M1546 1050.7L1560.1 1064.8L1546 1078.9L1531.9 1064.8Z" fill="#fff" stroke="#0000ff" stroke-width="2.55" stroke-linejoin="miter"/>
<text transform="translate(1586 1075) scale(0.9662 1)" font-size="30.43" fill="#0000ff" stroke="#0000ff" text-anchor="start">2#</text>
</g>
</svg>
</body>
</html>
